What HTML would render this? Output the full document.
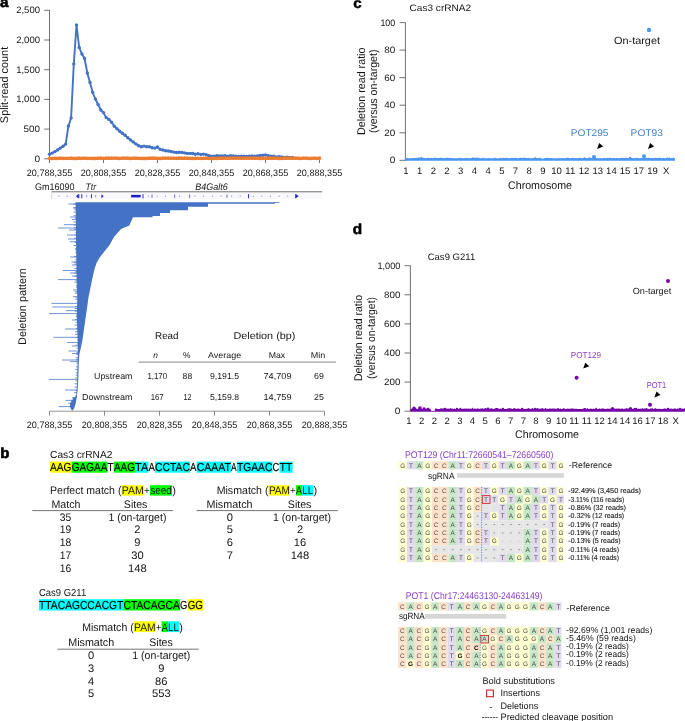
<!DOCTYPE html>
<html lang="en"><head><meta charset="utf-8"><title>Figure</title>
<style>html,body{margin:0;padding:0;background:#fff}svg{display:block}text{white-space:pre}</style></head>
<body>
<svg width="685" height="721" viewBox="0 0 685 721" font-family='"Liberation Sans", sans-serif' fill="#141414" text-rendering="geometricPrecision">
<text x="0.1" y="7.3" font-size="14.6" textLength="8.5" lengthAdjust="spacingAndGlyphs" fill="#000" font-weight="bold" stroke="#000" stroke-width="0.55">a</text>
<line x1="49.5" y1="10.3" x2="49.5" y2="159.2" stroke="#4d4d4d" stroke-width="0.8"/>
<line x1="44.2" y1="158.8" x2="49.5" y2="158.8" stroke="#4d4d4d" stroke-width="0.8"/>
<text x="40.0" y="161.6" font-size="9.36" text-anchor="end" textLength="5.6" lengthAdjust="spacingAndGlyphs">0</text>
<line x1="44.2" y1="129.1" x2="49.5" y2="129.1" stroke="#4d4d4d" stroke-width="0.8"/>
<text x="40.0" y="131.9" font-size="9.36" text-anchor="end" textLength="16.4" lengthAdjust="spacingAndGlyphs">500</text>
<line x1="44.2" y1="99.4" x2="49.5" y2="99.4" stroke="#4d4d4d" stroke-width="0.8"/>
<text x="40.0" y="102.2" font-size="9.36" text-anchor="end" textLength="23.8" lengthAdjust="spacingAndGlyphs">1,000</text>
<line x1="44.2" y1="69.7" x2="49.5" y2="69.7" stroke="#4d4d4d" stroke-width="0.8"/>
<text x="40.0" y="72.5" font-size="9.36" text-anchor="end" textLength="23.8" lengthAdjust="spacingAndGlyphs">1,500</text>
<line x1="44.2" y1="40.0" x2="49.5" y2="40.0" stroke="#4d4d4d" stroke-width="0.8"/>
<text x="40.0" y="42.8" font-size="9.36" text-anchor="end" textLength="23.8" lengthAdjust="spacingAndGlyphs">2,000</text>
<line x1="44.2" y1="10.3" x2="49.5" y2="10.3" stroke="#4d4d4d" stroke-width="0.8"/>
<text x="40.0" y="13.1" font-size="9.36" text-anchor="end" textLength="23.8" lengthAdjust="spacingAndGlyphs">2,500</text>
<text transform="translate(4.3 85.0) rotate(-90)" x="0" y="3.8" font-size="11.02" text-anchor="middle" textLength="76.3" lengthAdjust="spacingAndGlyphs">Split-read count</text>
<line x1="49.5" y1="158.8" x2="319.0" y2="158.8" stroke="#4d4d4d" stroke-width="0.8"/>
<line x1="49.5" y1="158.8" x2="49.5" y2="163.0" stroke="#4d4d4d" stroke-width="0.8"/>
<text x="49.5" y="176.2" font-size="9.36" text-anchor="middle" textLength="45.5" lengthAdjust="spacingAndGlyphs">20,788,355</text>
<line x1="103.5" y1="158.8" x2="103.5" y2="163.0" stroke="#4d4d4d" stroke-width="0.8"/>
<text x="103.5" y="176.2" font-size="9.36" text-anchor="middle" textLength="45.5" lengthAdjust="spacingAndGlyphs">20,808,355</text>
<line x1="157.5" y1="158.8" x2="157.5" y2="163.0" stroke="#4d4d4d" stroke-width="0.8"/>
<text x="157.5" y="176.2" font-size="9.36" text-anchor="middle" textLength="45.5" lengthAdjust="spacingAndGlyphs">20,828,355</text>
<line x1="211.5" y1="158.8" x2="211.5" y2="163.0" stroke="#4d4d4d" stroke-width="0.8"/>
<text x="211.5" y="176.2" font-size="9.36" text-anchor="middle" textLength="45.5" lengthAdjust="spacingAndGlyphs">20,848,355</text>
<line x1="265.5" y1="158.8" x2="265.5" y2="163.0" stroke="#4d4d4d" stroke-width="0.8"/>
<text x="265.5" y="176.2" font-size="9.36" text-anchor="middle" textLength="45.5" lengthAdjust="spacingAndGlyphs">20,868,355</text>
<line x1="319.5" y1="158.8" x2="319.5" y2="163.0" stroke="#4d4d4d" stroke-width="0.8"/>
<text x="319.5" y="176.2" font-size="9.36" text-anchor="middle" textLength="45.5" lengthAdjust="spacingAndGlyphs">20,888,355</text>
<polyline fill="none" stroke="#4472c4" stroke-width="1.9" stroke-linejoin="round" points="49.5,154.2 52.2,153.1 54.9,151.6 57.6,149.9 60.3,148.1 63.0,146.3 65.7,144.1 68.4,126.0 71.1,118.0 73.8,64.0 76.5,25.0 79.2,47.5 81.9,54.0 84.6,58.5 87.3,73.0 90.0,82.5 92.7,92.5 95.4,99.0 98.1,104.5 100.8,110.0 103.5,112.6 106.2,117.6 108.9,119.4 111.6,122.2 114.3,126.3 117.0,128.7 119.7,131.2 122.4,133.3 125.1,135.3 127.8,137.8 130.5,139.9 133.2,141.9 135.9,143.9 138.6,145.7 141.3,146.8 144.0,146.1 146.7,146.7 149.4,146.7 152.1,147.7 154.8,148.1 157.5,147.0 160.2,149.4 162.9,150.0 165.6,150.7 168.3,151.0 171.0,151.5 173.7,152.1 176.4,152.5 179.1,152.2 181.8,152.4 184.5,152.9 187.2,153.4 189.9,153.4 192.6,153.5 195.3,154.2 198.0,153.7 200.7,154.4 203.4,154.1 206.1,154.6 208.8,155.7 211.5,156.1 214.2,156.3 216.9,155.8 219.6,156.0 222.3,155.9 225.0,155.8 227.7,156.1 230.4,155.8 233.1,155.9 235.8,156.1 238.5,156.4 241.2,156.2 243.9,156.2 246.6,156.4 249.3,156.2 252.0,155.9 254.7,156.2 257.4,156.0 260.1,155.4 262.8,155.3 265.5,154.9 268.2,155.6 270.9,156.2 273.6,156.3 276.3,157.0 279.0,156.6 281.7,157.0 284.4,157.4 287.1,157.2 289.8,157.6 292.5,157.5"/>
<g fill="#4472c4">
<circle cx="49.5" cy="154.2" r="1.7"/>
<circle cx="52.2" cy="153.1" r="1.7"/>
<circle cx="54.9" cy="151.6" r="1.7"/>
<circle cx="57.6" cy="149.9" r="1.7"/>
<circle cx="60.3" cy="148.1" r="1.7"/>
<circle cx="63.0" cy="146.3" r="1.7"/>
<circle cx="65.7" cy="144.1" r="1.7"/>
<circle cx="68.4" cy="126.0" r="1.7"/>
<circle cx="71.1" cy="118.0" r="1.7"/>
<circle cx="73.8" cy="64.0" r="1.7"/>
<circle cx="76.5" cy="25.0" r="1.7"/>
<circle cx="79.2" cy="47.5" r="1.7"/>
<circle cx="81.9" cy="54.0" r="1.7"/>
<circle cx="84.6" cy="58.5" r="1.7"/>
<circle cx="87.3" cy="73.0" r="1.7"/>
<circle cx="90.0" cy="82.5" r="1.7"/>
<circle cx="92.7" cy="92.5" r="1.7"/>
<circle cx="95.4" cy="99.0" r="1.7"/>
<circle cx="98.1" cy="104.5" r="1.7"/>
<circle cx="100.8" cy="110.0" r="1.7"/>
<circle cx="103.5" cy="112.6" r="1.7"/>
<circle cx="106.2" cy="117.6" r="1.7"/>
<circle cx="108.9" cy="119.4" r="1.7"/>
<circle cx="111.6" cy="122.2" r="1.7"/>
<circle cx="114.3" cy="126.3" r="1.7"/>
<circle cx="117.0" cy="128.7" r="1.7"/>
<circle cx="119.7" cy="131.2" r="1.7"/>
<circle cx="122.4" cy="133.3" r="1.7"/>
<circle cx="125.1" cy="135.3" r="1.7"/>
<circle cx="127.8" cy="137.8" r="1.7"/>
<circle cx="130.5" cy="139.9" r="1.7"/>
<circle cx="133.2" cy="141.9" r="1.7"/>
<circle cx="135.9" cy="143.9" r="1.7"/>
<circle cx="138.6" cy="145.7" r="1.7"/>
<circle cx="141.3" cy="146.8" r="1.7"/>
<circle cx="144.0" cy="146.1" r="1.7"/>
<circle cx="146.7" cy="146.7" r="1.7"/>
<circle cx="149.4" cy="146.7" r="1.7"/>
<circle cx="152.1" cy="147.7" r="1.7"/>
<circle cx="154.8" cy="148.1" r="1.7"/>
<circle cx="157.5" cy="147.0" r="1.7"/>
<circle cx="160.2" cy="149.4" r="1.7"/>
<circle cx="162.9" cy="150.0" r="1.7"/>
<circle cx="165.6" cy="150.7" r="1.7"/>
<circle cx="168.3" cy="151.0" r="1.7"/>
<circle cx="171.0" cy="151.5" r="1.7"/>
<circle cx="173.7" cy="152.1" r="1.7"/>
<circle cx="176.4" cy="152.5" r="1.7"/>
<circle cx="179.1" cy="152.2" r="1.7"/>
<circle cx="181.8" cy="152.4" r="1.7"/>
<circle cx="184.5" cy="152.9" r="1.7"/>
<circle cx="187.2" cy="153.4" r="1.7"/>
<circle cx="189.9" cy="153.4" r="1.7"/>
<circle cx="192.6" cy="153.5" r="1.7"/>
<circle cx="195.3" cy="154.2" r="1.7"/>
<circle cx="198.0" cy="153.7" r="1.7"/>
<circle cx="200.7" cy="154.4" r="1.7"/>
<circle cx="203.4" cy="154.1" r="1.7"/>
<circle cx="206.1" cy="154.6" r="1.7"/>
<circle cx="208.8" cy="155.7" r="1.7"/>
<circle cx="211.5" cy="156.1" r="1.7"/>
<circle cx="214.2" cy="156.3" r="1.7"/>
<circle cx="216.9" cy="155.8" r="1.7"/>
<circle cx="219.6" cy="156.0" r="1.7"/>
<circle cx="222.3" cy="155.9" r="1.7"/>
<circle cx="225.0" cy="155.8" r="1.7"/>
<circle cx="227.7" cy="156.1" r="1.7"/>
<circle cx="230.4" cy="155.8" r="1.7"/>
<circle cx="233.1" cy="155.9" r="1.7"/>
<circle cx="235.8" cy="156.1" r="1.7"/>
<circle cx="238.5" cy="156.4" r="1.7"/>
<circle cx="241.2" cy="156.2" r="1.7"/>
<circle cx="243.9" cy="156.2" r="1.7"/>
<circle cx="246.6" cy="156.4" r="1.7"/>
<circle cx="249.3" cy="156.2" r="1.7"/>
<circle cx="252.0" cy="155.9" r="1.7"/>
<circle cx="254.7" cy="156.2" r="1.7"/>
<circle cx="257.4" cy="156.0" r="1.7"/>
<circle cx="260.1" cy="155.4" r="1.7"/>
<circle cx="262.8" cy="155.3" r="1.7"/>
<circle cx="265.5" cy="154.9" r="1.7"/>
<circle cx="268.2" cy="155.6" r="1.7"/>
<circle cx="270.9" cy="156.2" r="1.7"/>
<circle cx="273.6" cy="156.3" r="1.7"/>
<circle cx="276.3" cy="157.0" r="1.7"/>
<circle cx="279.0" cy="156.6" r="1.7"/>
<circle cx="281.7" cy="157.0" r="1.7"/>
<circle cx="284.4" cy="157.4" r="1.7"/>
<circle cx="287.1" cy="157.2" r="1.7"/>
<circle cx="289.8" cy="157.6" r="1.7"/>
<circle cx="292.5" cy="157.5" r="1.7"/>
</g>
<polyline fill="none" stroke="#ed7d31" stroke-width="2.4" points="49.5,158.3 52.2,158.4 54.9,158.3 57.6,158.4 60.3,158.2 63.0,158.3 65.7,158.3 68.4,158.3 71.1,158.2 73.8,158.4 76.5,158.4 79.2,158.2 81.9,158.3 84.6,158.1 87.3,158.3 90.0,158.3 92.7,158.4 95.4,158.4 98.1,158.2 100.8,158.2 103.5,158.3 106.2,158.1 108.9,158.2 111.6,158.1 114.3,158.1 117.0,158.1 119.7,158.4 122.4,158.1 125.1,158.1 127.8,158.2 130.5,158.4 133.2,158.1 135.9,158.2 138.6,158.3 141.3,158.4 144.0,158.4 146.7,158.4 149.4,158.2 152.1,158.2 154.8,158.2 157.5,158.4 160.2,158.4 162.9,158.1 165.6,158.1 168.3,158.1 171.0,158.1 173.7,158.2 176.4,158.3 179.1,158.2 181.8,158.1 184.5,158.2 187.2,158.2 189.9,158.3 192.6,158.4 195.3,158.3 198.0,158.3 200.7,158.3 203.4,158.3 206.1,158.1 208.8,158.4 211.5,158.4 214.2,158.4 216.9,158.4 219.6,158.2 222.3,158.2 225.0,158.1 227.7,158.3 230.4,158.1 233.1,158.1 235.8,158.1 238.5,158.1 241.2,158.2 243.9,158.1 246.6,158.1 249.3,158.1 252.0,158.1 254.7,158.2 257.4,158.1 260.1,158.4 262.8,158.3 265.5,158.1 268.2,158.2 270.9,158.2 273.6,158.2 276.3,158.1 279.0,158.4 281.7,158.4 284.4,158.2 287.1,158.2 289.8,158.1 292.5,158.1 295.2,158.2 297.9,158.2 300.6,158.4 303.3,158.1 306.0,158.1 308.7,158.4 311.4,158.3 314.1,158.1 316.8,158.3 319.5,158.1"/>
<g fill="#ed7d31">
<circle cx="49.5" cy="158.3" r="1.9"/>
<circle cx="52.2" cy="158.4" r="1.9"/>
<circle cx="54.9" cy="158.3" r="1.9"/>
<circle cx="57.6" cy="158.4" r="1.9"/>
<circle cx="60.3" cy="158.2" r="1.9"/>
<circle cx="63.0" cy="158.3" r="1.9"/>
<circle cx="65.7" cy="158.3" r="1.9"/>
<circle cx="68.4" cy="158.3" r="1.9"/>
<circle cx="71.1" cy="158.2" r="1.9"/>
<circle cx="73.8" cy="158.4" r="1.9"/>
<circle cx="76.5" cy="158.4" r="1.9"/>
<circle cx="79.2" cy="158.2" r="1.9"/>
<circle cx="81.9" cy="158.3" r="1.9"/>
<circle cx="84.6" cy="158.1" r="1.9"/>
<circle cx="87.3" cy="158.3" r="1.9"/>
<circle cx="90.0" cy="158.3" r="1.9"/>
<circle cx="92.7" cy="158.4" r="1.9"/>
<circle cx="95.4" cy="158.4" r="1.9"/>
<circle cx="98.1" cy="158.2" r="1.9"/>
<circle cx="100.8" cy="158.2" r="1.9"/>
<circle cx="103.5" cy="158.3" r="1.9"/>
<circle cx="106.2" cy="158.1" r="1.9"/>
<circle cx="108.9" cy="158.2" r="1.9"/>
<circle cx="111.6" cy="158.1" r="1.9"/>
<circle cx="114.3" cy="158.1" r="1.9"/>
<circle cx="117.0" cy="158.1" r="1.9"/>
<circle cx="119.7" cy="158.4" r="1.9"/>
<circle cx="122.4" cy="158.1" r="1.9"/>
<circle cx="125.1" cy="158.1" r="1.9"/>
<circle cx="127.8" cy="158.2" r="1.9"/>
<circle cx="130.5" cy="158.4" r="1.9"/>
<circle cx="133.2" cy="158.1" r="1.9"/>
<circle cx="135.9" cy="158.2" r="1.9"/>
<circle cx="138.6" cy="158.3" r="1.9"/>
<circle cx="141.3" cy="158.4" r="1.9"/>
<circle cx="144.0" cy="158.4" r="1.9"/>
<circle cx="146.7" cy="158.4" r="1.9"/>
<circle cx="149.4" cy="158.2" r="1.9"/>
<circle cx="152.1" cy="158.2" r="1.9"/>
<circle cx="154.8" cy="158.2" r="1.9"/>
<circle cx="157.5" cy="158.4" r="1.9"/>
<circle cx="160.2" cy="158.4" r="1.9"/>
<circle cx="162.9" cy="158.1" r="1.9"/>
<circle cx="165.6" cy="158.1" r="1.9"/>
<circle cx="168.3" cy="158.1" r="1.9"/>
<circle cx="171.0" cy="158.1" r="1.9"/>
<circle cx="173.7" cy="158.2" r="1.9"/>
<circle cx="176.4" cy="158.3" r="1.9"/>
<circle cx="179.1" cy="158.2" r="1.9"/>
<circle cx="181.8" cy="158.1" r="1.9"/>
<circle cx="184.5" cy="158.2" r="1.9"/>
<circle cx="187.2" cy="158.2" r="1.9"/>
<circle cx="189.9" cy="158.3" r="1.9"/>
<circle cx="192.6" cy="158.4" r="1.9"/>
<circle cx="195.3" cy="158.3" r="1.9"/>
<circle cx="198.0" cy="158.3" r="1.9"/>
<circle cx="200.7" cy="158.3" r="1.9"/>
<circle cx="203.4" cy="158.3" r="1.9"/>
<circle cx="206.1" cy="158.1" r="1.9"/>
<circle cx="208.8" cy="158.4" r="1.9"/>
<circle cx="211.5" cy="158.4" r="1.9"/>
<circle cx="214.2" cy="158.4" r="1.9"/>
<circle cx="216.9" cy="158.4" r="1.9"/>
<circle cx="219.6" cy="158.2" r="1.9"/>
<circle cx="222.3" cy="158.2" r="1.9"/>
<circle cx="225.0" cy="158.1" r="1.9"/>
<circle cx="227.7" cy="158.3" r="1.9"/>
<circle cx="230.4" cy="158.1" r="1.9"/>
<circle cx="233.1" cy="158.1" r="1.9"/>
<circle cx="235.8" cy="158.1" r="1.9"/>
<circle cx="238.5" cy="158.1" r="1.9"/>
<circle cx="241.2" cy="158.2" r="1.9"/>
<circle cx="243.9" cy="158.1" r="1.9"/>
<circle cx="246.6" cy="158.1" r="1.9"/>
<circle cx="249.3" cy="158.1" r="1.9"/>
<circle cx="252.0" cy="158.1" r="1.9"/>
<circle cx="254.7" cy="158.2" r="1.9"/>
<circle cx="257.4" cy="158.1" r="1.9"/>
<circle cx="260.1" cy="158.4" r="1.9"/>
<circle cx="262.8" cy="158.3" r="1.9"/>
<circle cx="265.5" cy="158.1" r="1.9"/>
<circle cx="268.2" cy="158.2" r="1.9"/>
<circle cx="270.9" cy="158.2" r="1.9"/>
<circle cx="273.6" cy="158.2" r="1.9"/>
<circle cx="276.3" cy="158.1" r="1.9"/>
<circle cx="279.0" cy="158.4" r="1.9"/>
<circle cx="281.7" cy="158.4" r="1.9"/>
<circle cx="284.4" cy="158.2" r="1.9"/>
<circle cx="287.1" cy="158.2" r="1.9"/>
<circle cx="289.8" cy="158.1" r="1.9"/>
<circle cx="292.5" cy="158.1" r="1.9"/>
<circle cx="295.2" cy="158.2" r="1.9"/>
<circle cx="297.9" cy="158.2" r="1.9"/>
<circle cx="300.6" cy="158.4" r="1.9"/>
<circle cx="303.3" cy="158.1" r="1.9"/>
<circle cx="306.0" cy="158.1" r="1.9"/>
<circle cx="308.7" cy="158.4" r="1.9"/>
<circle cx="311.4" cy="158.3" r="1.9"/>
<circle cx="314.1" cy="158.1" r="1.9"/>
<circle cx="316.8" cy="158.3" r="1.9"/>
<circle cx="319.5" cy="158.1" r="1.9"/>
</g>
<text x="35.0" y="189.5" font-size="9.57" textLength="39.5" lengthAdjust="spacingAndGlyphs">Gm16090</text>
<text x="85.6" y="189.5" font-size="9.57" textLength="10.5" lengthAdjust="spacingAndGlyphs" font-style="italic">Ttr</text>
<text x="195.2" y="189.5" font-size="9.57" textLength="32.5" lengthAdjust="spacingAndGlyphs" font-style="italic">B4Galt6</text>
<rect x="51.50" y="191.10" width="270.50" height="1.50" fill="#8c8c8c"/>
<rect x="51.50" y="192.60" width="270.50" height="6.50" fill="#f8f8fd"/>
<rect x="51.20" y="192.60" width="0.60" height="6.50" fill="#c8c8c8"/>
<rect x="58.40" y="195.70" width="1.00" height="1.00" fill="#7d7de6"/>
<rect x="66.70" y="195.70" width="1.00" height="1.00" fill="#7d7de6"/>
<rect x="147.90" y="195.70" width="1.00" height="1.00" fill="#7d7de6"/>
<rect x="156.70" y="195.70" width="1.00" height="1.00" fill="#7d7de6"/>
<rect x="164.90" y="195.70" width="1.00" height="1.00" fill="#7d7de6"/>
<rect x="179.00" y="195.70" width="1.00" height="1.00" fill="#7d7de6"/>
<rect x="194.40" y="195.70" width="1.00" height="1.00" fill="#7d7de6"/>
<rect x="203.10" y="195.70" width="1.00" height="1.00" fill="#7d7de6"/>
<rect x="211.90" y="195.70" width="1.00" height="1.00" fill="#7d7de6"/>
<rect x="220.50" y="195.70" width="1.00" height="1.00" fill="#7d7de6"/>
<rect x="231.10" y="195.70" width="1.00" height="1.00" fill="#7d7de6"/>
<rect x="239.70" y="195.70" width="1.00" height="1.00" fill="#7d7de6"/>
<rect x="252.90" y="195.70" width="1.00" height="1.00" fill="#7d7de6"/>
<rect x="261.30" y="195.70" width="1.00" height="1.00" fill="#7d7de6"/>
<rect x="269.90" y="195.70" width="1.00" height="1.00" fill="#7d7de6"/>
<rect x="278.70" y="195.70" width="1.00" height="1.00" fill="#7d7de6"/>
<rect x="287.20" y="195.70" width="1.00" height="1.00" fill="#7d7de6"/>
<rect x="81.35" y="194.10" width="0.90" height="4.20" fill="#1c1cc8"/>
<rect x="90.95" y="194.10" width="0.90" height="4.20" fill="#1c1cc8"/>
<rect x="142.55" y="194.10" width="0.90" height="4.20" fill="#1c1cc8"/>
<rect x="248.05" y="194.10" width="0.90" height="4.20" fill="#1c1cc8"/>
<rect x="151.60" y="194.50" width="0.80" height="3.40" fill="#4a4ad6"/>
<rect x="174.30" y="194.50" width="0.80" height="3.40" fill="#4a4ad6"/>
<rect x="189.30" y="194.50" width="0.80" height="3.40" fill="#4a4ad6"/>
<rect x="226.60" y="194.50" width="0.80" height="3.40" fill="#4a4ad6"/>
<rect x="86.20" y="195.00" width="0.80" height="2.40" fill="#7d7de6"/>
<rect x="95.30" y="195.00" width="0.80" height="2.40" fill="#7d7de6"/>
<path d="M76 196.2 l2.2 -2 v4 z" fill="#1c1cc8"/>
<rect x="78.20" y="194.20" width="1.10" height="4.00" fill="#1c1cc8"/>
<path d="M101.4 194.2 l2.2 2 l-2.2 2 z" fill="#1c1cc8"/>
<rect x="131.10" y="194.90" width="9.60" height="2.50" fill="#1c1cc8"/>
<rect x="295.20" y="194.10" width="0.90" height="4.20" fill="#1c1cc8"/>
<path d="M296 194.29999999999998 l2.6 1.9 l-2.6 1.9 z" fill="#1c1cc8"/>
<path fill="#4472c4" d="M279.5 202.3 L279.5 203.0 L275.0 203.0 L275.0 203.7 L208.0 203.7 L208.0 206.7 L188.0 206.7 L188.0 210.2 L170.0 210.2 L170.0 213.0 L160.0 213.0 L160.0 216.0 L152.5 216.0 L152.5 217.2 L133.0 217.2 L129.3 225.5 L121.0 229.0 L114.0 237.0 L109.4 245.2 L104.8 251.0 L100.0 257.0 L96.6 262.8 L94.3 269.8 L92.0 280.3 L90.3 288.5 L88.4 297.8 L87.2 307.0 L86.0 315.0 L85.0 322.0 L82.6 339.0 L80.6 349.0 L79.4 354.0 L78.8 362.0 L78.5 372.0 L78.2 381.0 L77.6 390.0 L76.9 396.5 L75.8 403.2 L74.2 408.2 L72.9 410.2 L71.6 410.2 L69.8 406.5 L70.1 403.2 L73.3 398.4 L76.2 395.8 L76.6 390.0 L77.2 380.0 L77.3 370.0 L77.7 360.0 L78.0 350.0 L77.7 340.0 L77.3 330.0 L76.9 320.0 L76.9 310.0 L77.3 300.0 L76.8 285.0 L76.4 265.0 L76.1 245.0 L75.9 225.0 L75.7 210.0 L75.6 202.3 Z"/>
<g stroke="#4472c4" stroke-width="0.75">
<line x1="68.5" y1="204.0" x2="76.1" y2="204.0"/>
<line x1="73.0" y1="208.0" x2="76.2" y2="208.0"/>
<line x1="70.0" y1="217.0" x2="76.3" y2="217.0"/>
<line x1="72.0" y1="219.5" x2="76.3" y2="219.5"/>
<line x1="64.0" y1="224.7" x2="76.4" y2="224.7"/>
<line x1="58.0" y1="228.0" x2="76.4" y2="228.0"/>
<line x1="69.0" y1="230.0" x2="76.5" y2="230.0"/>
<line x1="67.0" y1="235.0" x2="76.5" y2="235.0"/>
<line x1="68.0" y1="239.0" x2="76.5" y2="239.0"/>
<line x1="70.0" y1="241.7" x2="76.6" y2="241.7"/>
<line x1="70.0" y1="257.0" x2="76.8" y2="257.0"/>
<line x1="71.5" y1="262.0" x2="76.9" y2="262.0"/>
<line x1="72.0" y1="265.0" x2="76.9" y2="265.0"/>
<line x1="62.7" y1="270.5" x2="77.0" y2="270.5"/>
<line x1="70.0" y1="273.0" x2="77.1" y2="273.0"/>
<line x1="72.0" y1="276.0" x2="77.1" y2="276.0"/>
<line x1="58.0" y1="279.6" x2="77.2" y2="279.6"/>
<line x1="73.0" y1="290.0" x2="77.5" y2="290.0"/>
<line x1="73.0" y1="296.6" x2="77.7" y2="296.6"/>
<line x1="51.5" y1="303.4" x2="77.7" y2="303.4"/>
<line x1="52.4" y1="307.0" x2="77.5" y2="307.0"/>
<line x1="66.0" y1="310.6" x2="77.4" y2="310.6"/>
<line x1="49.0" y1="313.6" x2="77.4" y2="313.6"/>
<line x1="72.0" y1="320.0" x2="77.4" y2="320.0"/>
<line x1="65.0" y1="329.0" x2="77.8" y2="329.0"/>
<line x1="53.4" y1="337.3" x2="78.1" y2="337.3"/>
<line x1="67.0" y1="342.5" x2="78.3" y2="342.5"/>
<line x1="72.0" y1="346.0" x2="78.4" y2="346.0"/>
<line x1="68.5" y1="351.0" x2="78.5" y2="351.0"/>
<line x1="72.0" y1="353.5" x2="78.4" y2="353.5"/>
<line x1="62.0" y1="360.0" x2="78.2" y2="360.0"/>
<line x1="70.0" y1="361.6" x2="78.1" y2="361.6"/>
<line x1="49.0" y1="379.4" x2="77.7" y2="379.4"/>
<line x1="65.0" y1="390.0" x2="77.1" y2="390.0"/>
<line x1="72.0" y1="398.0" x2="74.2" y2="398.0"/>
<line x1="65.5" y1="400.4" x2="72.5" y2="400.4"/>
<line x1="58.5" y1="406.6" x2="70.3" y2="406.6"/>
<line x1="73.1" y1="204.1" x2="76.2" y2="204.1"/>
<line x1="73.7" y1="207.6" x2="76.3" y2="207.6"/>
<line x1="74.4" y1="209.3" x2="76.3" y2="209.3"/>
<line x1="73.6" y1="212.0" x2="76.3" y2="212.0"/>
<line x1="73.6" y1="215.7" x2="76.4" y2="215.7"/>
<line x1="74.8" y1="218.2" x2="76.4" y2="218.2"/>
<line x1="73.3" y1="222.0" x2="76.5" y2="222.0"/>
<line x1="73.7" y1="225.0" x2="76.5" y2="225.0"/>
<line x1="73.9" y1="227.8" x2="76.5" y2="227.8"/>
<line x1="74.4" y1="229.6" x2="76.5" y2="229.6"/>
<line x1="75.4" y1="232.7" x2="76.6" y2="232.7"/>
<line x1="74.9" y1="235.0" x2="76.6" y2="235.0"/>
<line x1="74.1" y1="238.3" x2="76.6" y2="238.3"/>
<line x1="74.6" y1="242.6" x2="76.7" y2="242.6"/>
<line x1="73.5" y1="245.5" x2="76.7" y2="245.5"/>
<line x1="74.9" y1="248.4" x2="76.8" y2="248.4"/>
<line x1="75.2" y1="249.8" x2="76.8" y2="249.8"/>
<line x1="75.3" y1="252.7" x2="76.8" y2="252.7"/>
<line x1="73.9" y1="256.4" x2="76.9" y2="256.4"/>
<line x1="74.8" y1="259.8" x2="76.9" y2="259.8"/>
<line x1="74.2" y1="262.3" x2="77.0" y2="262.3"/>
<line x1="74.5" y1="264.1" x2="77.0" y2="264.1"/>
<line x1="74.3" y1="268.6" x2="77.1" y2="268.6"/>
<line x1="75.0" y1="271.2" x2="77.1" y2="271.2"/>
<line x1="74.4" y1="273.0" x2="77.2" y2="273.0"/>
<line x1="74.4" y1="276.2" x2="77.2" y2="276.2"/>
<line x1="75.4" y1="280.3" x2="77.3" y2="280.3"/>
<line x1="74.3" y1="282.1" x2="77.3" y2="282.1"/>
<line x1="76.0" y1="285.6" x2="77.4" y2="285.6"/>
<line x1="76.1" y1="287.4" x2="77.5" y2="287.4"/>
<line x1="74.8" y1="291.8" x2="77.6" y2="291.8"/>
<line x1="74.8" y1="293.2" x2="77.7" y2="293.2"/>
<line x1="75.3" y1="297.8" x2="77.8" y2="297.8"/>
<line x1="75.6" y1="299.4" x2="77.9" y2="299.4"/>
<line x1="76.7" y1="301.9" x2="77.8" y2="301.9"/>
<line x1="75.2" y1="306.4" x2="77.6" y2="306.4"/>
<line x1="74.5" y1="308.5" x2="77.6" y2="308.5"/>
<line x1="74.6" y1="311.2" x2="77.5" y2="311.2"/>
<line x1="76.0" y1="314.9" x2="77.5" y2="314.9"/>
<line x1="75.8" y1="316.6" x2="77.5" y2="316.6"/>
<line x1="75.2" y1="319.5" x2="77.5" y2="319.5"/>
<line x1="75.6" y1="322.4" x2="77.6" y2="322.4"/>
<line x1="74.7" y1="325.1" x2="77.7" y2="325.1"/>
<line x1="75.8" y1="328.4" x2="77.8" y2="328.4"/>
<line x1="75.0" y1="331.8" x2="78.0" y2="331.8"/>
<line x1="75.0" y1="334.3" x2="78.1" y2="334.3"/>
<line x1="76.0" y1="337.4" x2="78.2" y2="337.4"/>
<line x1="77.2" y1="340.3" x2="78.3" y2="340.3"/>
<line x1="76.9" y1="343.1" x2="78.4" y2="343.1"/>
<line x1="75.7" y1="345.1" x2="78.5" y2="345.1"/>
<line x1="76.5" y1="348.3" x2="78.6" y2="348.3"/>
<line x1="76.3" y1="352.4" x2="78.5" y2="352.4"/>
<line x1="76.3" y1="354.5" x2="78.5" y2="354.5"/>
<line x1="75.6" y1="357.8" x2="78.4" y2="357.8"/>
<line x1="76.0" y1="359.8" x2="78.3" y2="359.8"/>
<line x1="76.5" y1="363.0" x2="78.2" y2="363.0"/>
<line x1="75.9" y1="366.9" x2="78.0" y2="366.9"/>
<line x1="75.2" y1="369.4" x2="77.9" y2="369.4"/>
<line x1="75.8" y1="373.0" x2="77.9" y2="373.0"/>
<line x1="75.7" y1="375.3" x2="77.8" y2="375.3"/>
<line x1="75.3" y1="378.0" x2="77.8" y2="378.0"/>
<line x1="75.5" y1="380.8" x2="77.8" y2="380.8"/>
<line x1="74.5" y1="383.8" x2="77.6" y2="383.8"/>
<line x1="74.4" y1="387.1" x2="77.4" y2="387.1"/>
<line x1="75.5" y1="390.5" x2="77.2" y2="390.5"/>
<line x1="73.9" y1="392.6" x2="77.0" y2="392.6"/>
<line x1="75.1" y1="396.1" x2="76.5" y2="396.1"/>
<line x1="72.8" y1="397.5" x2="74.9" y2="397.5"/>
<line x1="71.0" y1="400.3" x2="72.6" y2="400.3"/>
<line x1="68.2" y1="403.2" x2="70.7" y2="403.2"/>
</g>
<text transform="translate(22.3 306.6) rotate(-90)" x="0" y="3.8" font-size="11.02" text-anchor="middle" textLength="76.7" lengthAdjust="spacingAndGlyphs">Deletion pattern</text>
<line x1="49.5" y1="411.2" x2="324.5" y2="411.2" stroke="#8a8a8a" stroke-width="0.9"/>
<line x1="49.5" y1="411.2" x2="49.5" y2="415.6" stroke="#6a6a6a" stroke-width="0.8"/>
<text x="49.5" y="427.8" font-size="9.36" text-anchor="middle" textLength="45.5" lengthAdjust="spacingAndGlyphs">20,788,355</text>
<line x1="104.5" y1="411.2" x2="104.5" y2="415.6" stroke="#6a6a6a" stroke-width="0.8"/>
<text x="104.5" y="427.8" font-size="9.36" text-anchor="middle" textLength="45.5" lengthAdjust="spacingAndGlyphs">20,808,355</text>
<line x1="159.5" y1="411.2" x2="159.5" y2="415.6" stroke="#6a6a6a" stroke-width="0.8"/>
<text x="159.5" y="427.8" font-size="9.36" text-anchor="middle" textLength="45.5" lengthAdjust="spacingAndGlyphs">20,828,355</text>
<line x1="214.5" y1="411.2" x2="214.5" y2="415.6" stroke="#6a6a6a" stroke-width="0.8"/>
<text x="214.5" y="427.8" font-size="9.36" text-anchor="middle" textLength="45.5" lengthAdjust="spacingAndGlyphs">20,848,355</text>
<line x1="269.5" y1="411.2" x2="269.5" y2="415.6" stroke="#6a6a6a" stroke-width="0.8"/>
<text x="269.5" y="427.8" font-size="9.36" text-anchor="middle" textLength="45.5" lengthAdjust="spacingAndGlyphs">20,868,355</text>
<line x1="324.5" y1="411.2" x2="324.5" y2="415.6" stroke="#6a6a6a" stroke-width="0.8"/>
<text x="324.5" y="427.8" font-size="9.36" text-anchor="middle" textLength="45.5" lengthAdjust="spacingAndGlyphs">20,888,355</text>
<text x="166.8" y="338.8" font-size="9.98" text-anchor="middle" textLength="23.5" lengthAdjust="spacingAndGlyphs">Read</text>
<text x="264.4" y="338.8" font-size="9.98" text-anchor="middle" textLength="62.0" lengthAdjust="spacingAndGlyphs">Deletion (bp)</text>
<text x="155.7" y="357.7" font-size="8.32" text-anchor="middle" textLength="4.7" lengthAdjust="spacingAndGlyphs" font-style="italic">n</text>
<text x="186.7" y="357.7" font-size="8.32" text-anchor="middle" textLength="7.5" lengthAdjust="spacingAndGlyphs">%</text>
<text x="224.6" y="357.7" font-size="8.32" text-anchor="middle" textLength="33.0" lengthAdjust="spacingAndGlyphs">Average</text>
<text x="277.0" y="357.7" font-size="8.32" text-anchor="middle" textLength="16.5" lengthAdjust="spacingAndGlyphs">Max</text>
<text x="318.0" y="357.7" font-size="8.32" text-anchor="middle" textLength="14.5" lengthAdjust="spacingAndGlyphs">Min</text>
<line x1="138.5" y1="362.1" x2="336.0" y2="362.1" stroke="#6a6a6a" stroke-width="0.8"/>
<text x="132.5" y="379.2" font-size="8.63" text-anchor="end" textLength="38.5" lengthAdjust="spacingAndGlyphs">Upstream</text>
<text x="157.2" y="379.2" font-size="8.63" text-anchor="middle" textLength="19.6" lengthAdjust="spacingAndGlyphs">1,170</text>
<text x="187.4" y="379.2" font-size="8.63" text-anchor="middle" textLength="9.6" lengthAdjust="spacingAndGlyphs">88</text>
<text x="224.5" y="379.2" font-size="8.63" text-anchor="middle" textLength="29.0" lengthAdjust="spacingAndGlyphs">9,191.5</text>
<text x="277.5" y="379.2" font-size="8.63" text-anchor="middle" textLength="28.0" lengthAdjust="spacingAndGlyphs">74,709</text>
<text x="319.0" y="379.2" font-size="8.63" text-anchor="middle" textLength="9.8" lengthAdjust="spacingAndGlyphs">69</text>
<text x="132.5" y="400.4" font-size="8.63" text-anchor="end" textLength="50.5" lengthAdjust="spacingAndGlyphs">Downstream</text>
<text x="157.2" y="400.4" font-size="8.63" text-anchor="middle" textLength="13.0" lengthAdjust="spacingAndGlyphs">167</text>
<text x="187.4" y="400.4" font-size="8.63" text-anchor="middle" textLength="8.0" lengthAdjust="spacingAndGlyphs">12</text>
<text x="224.5" y="400.4" font-size="8.63" text-anchor="middle" textLength="29.0" lengthAdjust="spacingAndGlyphs">5,159.8</text>
<text x="277.5" y="400.4" font-size="8.63" text-anchor="middle" textLength="28.0" lengthAdjust="spacingAndGlyphs">14,759</text>
<text x="319.0" y="400.4" font-size="8.63" text-anchor="middle" textLength="9.8" lengthAdjust="spacingAndGlyphs">25</text>
<text x="0.2" y="458.2" font-size="14.6" textLength="9.2" lengthAdjust="spacingAndGlyphs" fill="#000" font-weight="bold" stroke="#000" stroke-width="0.55">b</text>
<text x="50.1" y="458.1" font-size="10.19" textLength="62.3" lengthAdjust="spacingAndGlyphs">Cas3 crRNA2</text>
<rect x="50.00" y="461.60" width="21.60" height="11.10" fill="#ffff00"/>
<rect x="71.60" y="461.60" width="35.90" height="11.10" fill="#00ff00"/>
<rect x="113.80" y="461.60" width="21.20" height="11.10" fill="#00ff00"/>
<rect x="135.00" y="461.60" width="13.40" height="11.10" fill="#00ffff"/>
<rect x="155.00" y="461.60" width="35.00" height="11.10" fill="#00ffff"/>
<rect x="196.60" y="461.60" width="34.40" height="11.10" fill="#00ffff"/>
<rect x="236.80" y="461.60" width="35.70" height="11.10" fill="#00ffff"/>
<rect x="279.50" y="461.60" width="13.10" height="11.10" fill="#00ffff"/>
<text x="50.1" y="471.3" font-size="11.65" textLength="21.4" lengthAdjust="spacingAndGlyphs" fill="#000" stroke="#000" stroke-width="0.15">AAG</text>
<text x="71.7" y="471.3" font-size="11.65" textLength="35.7" lengthAdjust="spacingAndGlyphs" fill="#000" stroke="#000" stroke-width="0.15">GAGAA</text>
<text x="107.6" y="471.3" font-size="11.65" textLength="6.1" lengthAdjust="spacingAndGlyphs" fill="#000" stroke="#000" stroke-width="0.15">T</text>
<text x="113.9" y="471.3" font-size="11.65" textLength="21.0" lengthAdjust="spacingAndGlyphs" fill="#000" stroke="#000" stroke-width="0.15">AAG</text>
<text x="135.1" y="471.3" font-size="11.65" textLength="13.2" lengthAdjust="spacingAndGlyphs" fill="#000" stroke="#000" stroke-width="0.15">TA</text>
<text x="148.5" y="471.3" font-size="11.65" textLength="6.4" lengthAdjust="spacingAndGlyphs" fill="#000" stroke="#000" stroke-width="0.15">A</text>
<text x="155.1" y="471.3" font-size="11.65" textLength="34.8" lengthAdjust="spacingAndGlyphs" fill="#000" stroke="#000" stroke-width="0.15">CCTAC</text>
<text x="190.1" y="471.3" font-size="11.65" textLength="6.4" lengthAdjust="spacingAndGlyphs" fill="#000" stroke="#000" stroke-width="0.15">A</text>
<text x="196.7" y="471.3" font-size="11.65" textLength="34.2" lengthAdjust="spacingAndGlyphs" fill="#000" stroke="#000" stroke-width="0.15">CAAAT</text>
<text x="231.1" y="471.3" font-size="11.65" textLength="5.6" lengthAdjust="spacingAndGlyphs" fill="#000" stroke="#000" stroke-width="0.15">A</text>
<text x="236.9" y="471.3" font-size="11.65" textLength="35.5" lengthAdjust="spacingAndGlyphs" fill="#000" stroke="#000" stroke-width="0.15">TGAAC</text>
<text x="272.6" y="471.3" font-size="11.65" textLength="6.8" lengthAdjust="spacingAndGlyphs" fill="#000" stroke="#000" stroke-width="0.15">C</text>
<text x="279.6" y="471.3" font-size="11.65" textLength="12.9" lengthAdjust="spacingAndGlyphs" fill="#000" stroke="#000" stroke-width="0.15">TT</text>
<rect x="121.60" y="485.20" width="22.60" height="10.40" fill="#ffff00"/>
<rect x="150.00" y="485.20" width="22.00" height="10.40" fill="#00ff00"/>
<text x="50.0" y="494.1" font-size="10.97" textLength="71.4" lengthAdjust="spacingAndGlyphs">Perfect match (</text>
<text x="121.8" y="494.1" font-size="10.97" textLength="22.0" lengthAdjust="spacingAndGlyphs">PAM</text>
<text x="144.3" y="494.1" font-size="10.97" textLength="5.4" lengthAdjust="spacingAndGlyphs">+</text>
<text x="150.2" y="494.1" font-size="10.97" textLength="21.6" lengthAdjust="spacingAndGlyphs">seed</text>
<text x="172.2" y="494.1" font-size="10.97" textLength="3.7" lengthAdjust="spacingAndGlyphs">)</text>
<text x="51.5" y="507.8" font-size="10.97" textLength="29.0" lengthAdjust="spacingAndGlyphs">Match</text>
<text x="135.6" y="507.8" font-size="10.97" text-anchor="middle" textLength="23.5" lengthAdjust="spacingAndGlyphs">Sites</text>
<line x1="32.3" y1="510.6" x2="173.0" y2="510.6" stroke="#3a3a3a" stroke-width="0.7"/>
<text x="65.5" y="520.5" font-size="10.97" text-anchor="middle" textLength="11.5" lengthAdjust="spacingAndGlyphs">35</text>
<text x="137.4" y="520.5" font-size="10.97" text-anchor="middle" textLength="58.0" lengthAdjust="spacingAndGlyphs">1 (on-target)</text>
<text x="65.5" y="533.3" font-size="10.97" text-anchor="middle" textLength="11.5" lengthAdjust="spacingAndGlyphs">19</text>
<text x="137.4" y="533.3" font-size="10.97" text-anchor="middle" textLength="6.2" lengthAdjust="spacingAndGlyphs">2</text>
<text x="65.5" y="546.1" font-size="10.97" text-anchor="middle" textLength="11.5" lengthAdjust="spacingAndGlyphs">18</text>
<text x="137.4" y="546.1" font-size="10.97" text-anchor="middle" textLength="6.2" lengthAdjust="spacingAndGlyphs">9</text>
<text x="65.5" y="558.9" font-size="10.97" text-anchor="middle" textLength="11.5" lengthAdjust="spacingAndGlyphs">17</text>
<text x="137.4" y="558.9" font-size="10.97" text-anchor="middle" textLength="12.4" lengthAdjust="spacingAndGlyphs">30</text>
<text x="65.5" y="571.7" font-size="10.97" text-anchor="middle" textLength="11.5" lengthAdjust="spacingAndGlyphs">16</text>
<text x="137.4" y="571.7" font-size="10.97" text-anchor="middle" textLength="18.7" lengthAdjust="spacingAndGlyphs">148</text>
<rect x="268.70" y="485.20" width="21.30" height="10.40" fill="#ffff00"/>
<rect x="295.90" y="485.20" width="6.20" height="10.40" fill="#00ff00"/>
<rect x="302.10" y="485.20" width="11.40" height="10.40" fill="#00ffff"/>
<text x="216.7" y="494.1" font-size="10.97" textLength="51.8" lengthAdjust="spacingAndGlyphs">Mismatch (</text>
<text x="268.9" y="494.1" font-size="10.97" textLength="21.0" lengthAdjust="spacingAndGlyphs">PAM</text>
<text x="290.3" y="494.1" font-size="10.97" textLength="5.3" lengthAdjust="spacingAndGlyphs">+</text>
<text x="296.0" y="494.1" font-size="10.97" textLength="6.0" lengthAdjust="spacingAndGlyphs">A</text>
<text x="302.2" y="494.1" font-size="10.97" textLength="11.0" lengthAdjust="spacingAndGlyphs">LL</text>
<text x="313.6" y="494.1" font-size="10.97" textLength="3.7" lengthAdjust="spacingAndGlyphs">)</text>
<text x="229.5" y="507.8" font-size="10.97" text-anchor="middle" textLength="46.0" lengthAdjust="spacingAndGlyphs">Mismatch</text>
<text x="299.6" y="507.8" font-size="10.97" text-anchor="middle" textLength="23.5" lengthAdjust="spacingAndGlyphs">Sites</text>
<line x1="196.6" y1="510.6" x2="337.8" y2="510.6" stroke="#3a3a3a" stroke-width="0.7"/>
<text x="229.8" y="520.5" font-size="10.97" text-anchor="middle" textLength="6.2" lengthAdjust="spacingAndGlyphs">0</text>
<text x="302.0" y="520.5" font-size="10.97" text-anchor="middle" textLength="58.0" lengthAdjust="spacingAndGlyphs">1 (on-target)</text>
<text x="229.8" y="533.3" font-size="10.97" text-anchor="middle" textLength="6.2" lengthAdjust="spacingAndGlyphs">5</text>
<text x="300.0" y="533.3" font-size="10.97" text-anchor="middle" textLength="6.2" lengthAdjust="spacingAndGlyphs">2</text>
<text x="229.8" y="546.1" font-size="10.97" text-anchor="middle" textLength="6.2" lengthAdjust="spacingAndGlyphs">6</text>
<text x="300.0" y="546.1" font-size="10.97" text-anchor="middle" textLength="12.4" lengthAdjust="spacingAndGlyphs">16</text>
<text x="229.8" y="558.9" font-size="10.97" text-anchor="middle" textLength="6.2" lengthAdjust="spacingAndGlyphs">7</text>
<text x="300.0" y="558.9" font-size="10.97" text-anchor="middle" textLength="18.7" lengthAdjust="spacingAndGlyphs">148</text>
<text x="39.0" y="596.2" font-size="10.19" textLength="47.2" lengthAdjust="spacingAndGlyphs">Cas9 G211</text>
<rect x="39.00" y="599.20" width="84.40" height="11.30" fill="#00ffff"/>
<rect x="123.40" y="599.20" width="56.60" height="11.30" fill="#00ff00"/>
<rect x="187.60" y="599.20" width="15.40" height="11.30" fill="#ffff00"/>
<text x="39.1" y="609.0" font-size="11.65" textLength="84.2" lengthAdjust="spacingAndGlyphs" fill="#000" stroke="#000" stroke-width="0.15">TTACAGCCACGT</text>
<text x="123.5" y="609.0" font-size="11.65" textLength="56.4" lengthAdjust="spacingAndGlyphs" fill="#000" stroke="#000" stroke-width="0.15">CTACAGCA</text>
<text x="180.1" y="609.0" font-size="11.65" textLength="7.4" lengthAdjust="spacingAndGlyphs" fill="#000" stroke="#000" stroke-width="0.15">G</text>
<text x="187.7" y="609.0" font-size="11.65" textLength="15.2" lengthAdjust="spacingAndGlyphs" fill="#000" stroke="#000" stroke-width="0.15">GG</text>
<rect x="133.90" y="621.30" width="21.90" height="10.80" fill="#ffff00"/>
<rect x="161.60" y="621.30" width="6.40" height="10.80" fill="#00ff00"/>
<rect x="168.00" y="621.30" width="11.00" height="10.80" fill="#00ffff"/>
<text x="82.2" y="630.6" font-size="10.97" textLength="51.5" lengthAdjust="spacingAndGlyphs">Mismatch (</text>
<text x="134.1" y="630.6" font-size="10.97" textLength="21.5" lengthAdjust="spacingAndGlyphs">PAM</text>
<text x="156.0" y="630.6" font-size="10.97" textLength="5.3" lengthAdjust="spacingAndGlyphs">+</text>
<text x="161.8" y="630.6" font-size="10.97" textLength="6.0" lengthAdjust="spacingAndGlyphs">A</text>
<text x="168.1" y="630.6" font-size="10.97" textLength="10.7" lengthAdjust="spacingAndGlyphs">LL</text>
<text x="179.2" y="630.6" font-size="10.97" textLength="3.7" lengthAdjust="spacingAndGlyphs">)</text>
<text x="91.2" y="646.0" font-size="10.97" text-anchor="middle" textLength="46.0" lengthAdjust="spacingAndGlyphs">Mismatch</text>
<text x="161.0" y="646.0" font-size="10.97" text-anchor="middle" textLength="23.5" lengthAdjust="spacingAndGlyphs">Sites</text>
<line x1="57.4" y1="649.2" x2="198.7" y2="649.2" stroke="#3a3a3a" stroke-width="0.7"/>
<text x="91.2" y="659.4" font-size="10.97" text-anchor="middle" textLength="6.2" lengthAdjust="spacingAndGlyphs">0</text>
<text x="161.3" y="659.4" font-size="10.97" text-anchor="middle" textLength="58.0" lengthAdjust="spacingAndGlyphs">1 (on-target)</text>
<text x="91.2" y="672.0" font-size="10.97" text-anchor="middle" textLength="6.2" lengthAdjust="spacingAndGlyphs">3</text>
<text x="161.3" y="672.0" font-size="10.97" text-anchor="middle" textLength="6.2" lengthAdjust="spacingAndGlyphs">9</text>
<text x="91.2" y="684.6" font-size="10.97" text-anchor="middle" textLength="6.2" lengthAdjust="spacingAndGlyphs">4</text>
<text x="161.3" y="684.6" font-size="10.97" text-anchor="middle" textLength="12.4" lengthAdjust="spacingAndGlyphs">86</text>
<text x="91.2" y="697.2" font-size="10.97" text-anchor="middle" textLength="6.2" lengthAdjust="spacingAndGlyphs">5</text>
<text x="161.3" y="697.2" font-size="10.97" text-anchor="middle" textLength="18.7" lengthAdjust="spacingAndGlyphs">553</text>
<text x="353.2" y="8.2" font-size="14.6" textLength="8.4" lengthAdjust="spacingAndGlyphs" fill="#000" font-weight="bold" stroke="#000" stroke-width="0.45">c</text>
<text x="409.6" y="10.8" font-size="9.36" textLength="61.5" lengthAdjust="spacingAndGlyphs">Cas3 crRNA2</text>
<line x1="405.4" y1="22.6" x2="405.4" y2="160.7" stroke="#4d4d4d" stroke-width="0.8"/>
<line x1="399.5" y1="160.3" x2="405.4" y2="160.3" stroke="#4d4d4d" stroke-width="0.8"/>
<text x="395.3" y="163.2" font-size="9.36" text-anchor="end" textLength="5.6" lengthAdjust="spacingAndGlyphs">0</text>
<line x1="399.5" y1="132.8" x2="405.4" y2="132.8" stroke="#4d4d4d" stroke-width="0.8"/>
<text x="395.3" y="135.7" font-size="9.36" text-anchor="end" textLength="11.0" lengthAdjust="spacingAndGlyphs">20</text>
<line x1="399.5" y1="105.2" x2="405.4" y2="105.2" stroke="#4d4d4d" stroke-width="0.8"/>
<text x="395.3" y="108.1" font-size="9.36" text-anchor="end" textLength="11.0" lengthAdjust="spacingAndGlyphs">40</text>
<line x1="399.5" y1="77.7" x2="405.4" y2="77.7" stroke="#4d4d4d" stroke-width="0.8"/>
<text x="395.3" y="80.6" font-size="9.36" text-anchor="end" textLength="11.0" lengthAdjust="spacingAndGlyphs">60</text>
<line x1="399.5" y1="50.1" x2="405.4" y2="50.1" stroke="#4d4d4d" stroke-width="0.8"/>
<text x="395.3" y="53.0" font-size="9.36" text-anchor="end" textLength="11.0" lengthAdjust="spacingAndGlyphs">80</text>
<line x1="399.5" y1="22.6" x2="405.4" y2="22.6" stroke="#4d4d4d" stroke-width="0.8"/>
<text x="395.3" y="25.5" font-size="9.36" text-anchor="end" textLength="14.9" lengthAdjust="spacingAndGlyphs">100</text>
<text transform="translate(360.7 91.3) rotate(-90)" x="0" y="3.8" font-size="11.13" text-anchor="middle" textLength="87.5" lengthAdjust="spacingAndGlyphs">Deletion read ratio</text>
<text transform="translate(373.6 91.3) rotate(-90)" x="0" y="3.8" font-size="11.13" text-anchor="middle" textLength="83.5" lengthAdjust="spacingAndGlyphs">(versus on-target)</text>
<text x="405.9" y="173.7" font-size="9.36" text-anchor="middle" textLength="5.3" lengthAdjust="spacingAndGlyphs">1</text>
<text x="419.6" y="173.7" font-size="9.36" text-anchor="middle" textLength="5.3" lengthAdjust="spacingAndGlyphs">1</text>
<text x="433.3" y="173.7" font-size="9.36" text-anchor="middle" textLength="5.3" lengthAdjust="spacingAndGlyphs">2</text>
<text x="447.0" y="173.7" font-size="9.36" text-anchor="middle" textLength="5.3" lengthAdjust="spacingAndGlyphs">2</text>
<text x="460.7" y="173.7" font-size="9.36" text-anchor="middle" textLength="5.3" lengthAdjust="spacingAndGlyphs">3</text>
<text x="474.4" y="173.7" font-size="9.36" text-anchor="middle" textLength="5.3" lengthAdjust="spacingAndGlyphs">4</text>
<text x="488.1" y="173.7" font-size="9.36" text-anchor="middle" textLength="5.3" lengthAdjust="spacingAndGlyphs">4</text>
<text x="501.8" y="173.7" font-size="9.36" text-anchor="middle" textLength="5.3" lengthAdjust="spacingAndGlyphs">5</text>
<text x="515.5" y="173.7" font-size="9.36" text-anchor="middle" textLength="5.3" lengthAdjust="spacingAndGlyphs">7</text>
<text x="529.2" y="173.7" font-size="9.36" text-anchor="middle" textLength="5.3" lengthAdjust="spacingAndGlyphs">8</text>
<text x="542.9" y="173.7" font-size="9.36" text-anchor="middle" textLength="5.3" lengthAdjust="spacingAndGlyphs">9</text>
<text x="556.6" y="173.7" font-size="9.36" text-anchor="middle" textLength="10.6" lengthAdjust="spacingAndGlyphs">10</text>
<text x="570.3" y="173.7" font-size="9.36" text-anchor="middle" textLength="9.9" lengthAdjust="spacingAndGlyphs">11</text>
<text x="584.0" y="173.7" font-size="9.36" text-anchor="middle" textLength="10.6" lengthAdjust="spacingAndGlyphs">12</text>
<text x="597.7" y="173.7" font-size="9.36" text-anchor="middle" textLength="10.6" lengthAdjust="spacingAndGlyphs">13</text>
<text x="611.4" y="173.7" font-size="9.36" text-anchor="middle" textLength="10.6" lengthAdjust="spacingAndGlyphs">14</text>
<text x="625.1" y="173.7" font-size="9.36" text-anchor="middle" textLength="10.6" lengthAdjust="spacingAndGlyphs">15</text>
<text x="638.8" y="173.7" font-size="9.36" text-anchor="middle" textLength="10.6" lengthAdjust="spacingAndGlyphs">17</text>
<text x="652.5" y="173.7" font-size="9.36" text-anchor="middle" textLength="10.6" lengthAdjust="spacingAndGlyphs">19</text>
<text x="666.2" y="173.7" font-size="9.36" text-anchor="middle" textLength="6.4" lengthAdjust="spacingAndGlyphs">X</text>
<text x="540.0" y="188.8" font-size="11.08" text-anchor="middle" textLength="64.0" lengthAdjust="spacingAndGlyphs">Chromosome</text>
<path d="M405.4 160.7 L405.4 158.29 L406.5 158.18 L407.6 157.84 L408.7 158.33 L409.8 158.32 L410.9 158.04 L412.0 158.25 L413.1 158.01 L414.2 157.95 L415.3 157.94 L416.4 157.76 L417.5 158.01 L418.6 157.24 L419.7 157.79 L420.8 158.22 L421.9 157.81 L423.0 157.77 L424.1 157.91 L425.2 158.00 L426.3 158.24 L427.4 157.84 L428.5 158.09 L429.6 157.80 L430.7 158.16 L431.8 157.79 L432.9 158.13 L434.0 157.80 L435.1 157.79 L436.2 158.02 L437.3 158.08 L438.4 157.91 L439.5 158.07 L440.6 157.82 L441.7 157.78 L442.8 157.94 L443.9 158.21 L445.0 158.05 L446.1 157.96 L447.2 157.49 L448.3 158.08 L449.4 158.03 L450.5 157.81 L451.6 158.01 L452.7 158.25 L453.8 158.05 L454.9 158.34 L456.0 158.25 L457.1 158.13 L458.2 157.96 L459.3 157.83 L460.4 158.19 L461.5 157.85 L462.6 158.25 L463.7 158.15 L464.8 157.90 L465.9 158.03 L467.0 158.02 L468.1 158.33 L469.2 158.08 L470.3 158.33 L471.4 157.96 L472.5 157.34 L473.6 157.87 L474.7 157.75 L475.8 157.80 L476.9 157.78 L478.0 157.42 L479.1 158.07 L480.2 158.14 L481.3 158.28 L482.4 157.95 L483.5 157.84 L484.6 158.14 L485.7 158.25 L486.8 158.13 L487.9 158.24 L489.0 158.06 L490.1 158.25 L491.2 158.25 L492.3 158.29 L493.4 158.17 L494.5 157.77 L495.6 157.97 L496.7 158.25 L497.8 158.13 L498.9 158.16 L500.0 157.75 L501.1 158.20 L502.2 158.07 L503.3 157.79 L504.4 157.90 L505.5 157.91 L506.6 157.87 L507.7 158.34 L508.8 157.98 L509.9 158.16 L511.0 158.12 L512.1 157.80 L513.2 157.90 L514.3 157.93 L515.4 157.76 L516.5 157.91 L517.6 158.17 L518.7 157.92 L519.8 158.03 L520.9 157.82 L522.0 157.87 L523.1 158.31 L524.2 157.22 L525.3 158.02 L526.4 157.88 L527.5 157.88 L528.6 157.84 L529.7 158.32 L530.8 158.24 L531.9 158.28 L533.0 157.89 L534.1 158.04 L535.2 157.11 L536.3 157.93 L537.4 157.96 L538.5 158.25 L539.6 157.38 L540.7 158.31 L541.8 158.29 L542.9 157.97 L544.0 158.35 L545.1 157.97 L546.2 157.92 L547.3 157.81 L548.4 157.92 L549.5 157.90 L550.6 158.06 L551.7 157.97 L552.8 158.28 L553.9 158.13 L555.0 158.31 L556.1 158.18 L557.2 158.19 L558.3 158.20 L559.4 157.92 L560.5 158.31 L561.6 158.03 L562.7 157.93 L563.8 158.34 L564.9 158.14 L566.0 158.08 L567.1 157.85 L568.2 157.87 L569.3 158.05 L570.4 158.29 L571.5 158.02 L572.6 157.87 L573.7 157.96 L574.8 157.89 L575.9 158.09 L577.0 158.20 L578.1 158.00 L579.2 157.98 L580.3 157.79 L581.4 158.33 L582.5 158.05 L583.6 158.27 L584.7 157.91 L585.8 157.99 L586.9 158.32 L588.0 158.27 L589.1 157.01 L590.2 158.03 L591.3 157.75 L592.4 158.31 L593.5 158.26 L594.6 157.90 L595.7 157.84 L596.8 158.16 L597.9 158.18 L599.0 158.21 L600.1 158.08 L601.2 158.22 L602.3 158.30 L603.4 157.93 L604.5 157.90 L605.6 158.17 L606.7 157.79 L607.8 158.10 L608.9 157.88 L610.0 157.76 L611.1 158.03 L612.2 158.14 L613.3 158.04 L614.4 157.90 L615.5 158.17 L616.6 157.76 L617.7 158.15 L618.8 157.90 L619.9 158.31 L621.0 157.77 L622.1 158.00 L623.2 157.87 L624.3 158.19 L625.4 157.87 L626.5 157.94 L627.6 157.89 L628.7 158.21 L629.8 158.32 L630.9 157.86 L632.0 158.00 L633.1 158.32 L634.2 157.99 L635.3 158.33 L636.4 157.78 L637.5 157.99 L638.6 158.28 L639.7 158.35 L640.8 157.95 L641.9 158.31 L643.0 157.77 L644.1 157.98 L645.2 157.95 L646.3 157.75 L647.4 157.96 L648.5 157.82 L649.6 157.87 L650.7 158.24 L651.8 158.01 L652.9 158.03 L654.0 158.30 L655.1 157.97 L656.2 157.77 L657.3 158.24 L658.4 157.77 L659.5 157.79 L660.6 157.90 L661.7 158.29 L662.8 157.91 L663.9 158.12 L665.0 158.18 L666.1 157.92 L667.2 157.35 L668.3 158.32 L669.4 157.25 L670.5 158.32 L671.6 157.90 L672.7 158.05 L673.8 157.86 L674.9 158.19 L675 160.7 Z" fill="#4b97f0"/>
<circle cx="421.2" cy="158.1" r="1.2" fill="#4b97f0"/>
<circle cx="584.4" cy="158.3" r="1.0" fill="#4b97f0"/>
<circle cx="630.0" cy="158.0" r="1.2" fill="#4b97f0"/>
<circle cx="594.0" cy="157.0" r="2.0" fill="#4b97f0"/>
<circle cx="644.0" cy="156.2" r="2.0" fill="#4b97f0"/>
<rect x="542.30" y="158.00" width="1.20" height="1.00" fill="#ffffff"/>
<circle cx="649.0" cy="30.0" r="2.2" fill="#4b97f0"/>
<text x="637.0" y="44.1" font-size="10.3" text-anchor="middle" textLength="46.0" lengthAdjust="spacingAndGlyphs">On-target</text>
<text x="570.8" y="135.6" font-size="9.67" textLength="37.7" lengthAdjust="spacingAndGlyphs" fill="#3f7fc4" stroke="none">POT295</text>
<text x="630.6" y="136.3" font-size="9.67" textLength="32.4" lengthAdjust="spacingAndGlyphs" fill="#3f7fc4" stroke="none">POT93</text>
<path d="M597.1 148.9 l2.1 -5.9 l4 3.5 z" fill="#000"/>
<path d="M648.0 148.9 l2.1 -5.9 l4 3.5 z" fill="#000"/>
<text x="352.7" y="234.4" font-size="14.6" textLength="9.4" lengthAdjust="spacingAndGlyphs" fill="#000" font-weight="bold" stroke="#000" stroke-width="0.55">d</text>
<text x="427.7" y="260.4" font-size="9.36" textLength="47.5" lengthAdjust="spacingAndGlyphs">Cas9 G211</text>
<line x1="410.4" y1="265.7" x2="410.4" y2="411.6" stroke="#4d4d4d" stroke-width="0.8"/>
<line x1="404.5" y1="411.2" x2="410.4" y2="411.2" stroke="#4d4d4d" stroke-width="0.8"/>
<text x="400.4" y="414.1" font-size="9.36" text-anchor="end" textLength="5.6" lengthAdjust="spacingAndGlyphs">0</text>
<line x1="404.5" y1="382.1" x2="410.4" y2="382.1" stroke="#4d4d4d" stroke-width="0.8"/>
<text x="400.4" y="385.0" font-size="9.36" text-anchor="end" textLength="16.4" lengthAdjust="spacingAndGlyphs">200</text>
<line x1="404.5" y1="353.0" x2="410.4" y2="353.0" stroke="#4d4d4d" stroke-width="0.8"/>
<text x="400.4" y="355.9" font-size="9.36" text-anchor="end" textLength="16.4" lengthAdjust="spacingAndGlyphs">400</text>
<line x1="404.5" y1="323.9" x2="410.4" y2="323.9" stroke="#4d4d4d" stroke-width="0.8"/>
<text x="400.4" y="326.8" font-size="9.36" text-anchor="end" textLength="16.4" lengthAdjust="spacingAndGlyphs">600</text>
<line x1="404.5" y1="294.8" x2="410.4" y2="294.8" stroke="#4d4d4d" stroke-width="0.8"/>
<text x="400.4" y="297.7" font-size="9.36" text-anchor="end" textLength="16.4" lengthAdjust="spacingAndGlyphs">800</text>
<line x1="404.5" y1="265.7" x2="410.4" y2="265.7" stroke="#4d4d4d" stroke-width="0.8"/>
<text x="400.4" y="268.6" font-size="9.36" text-anchor="end" textLength="23.0" lengthAdjust="spacingAndGlyphs">1,000</text>
<text transform="translate(358.6 338.0) rotate(-90)" x="0" y="3.8" font-size="11.13" text-anchor="middle" textLength="86.0" lengthAdjust="spacingAndGlyphs">Deletion read ratio</text>
<text transform="translate(371.0 338.0) rotate(-90)" x="0" y="3.8" font-size="11.13" text-anchor="middle" textLength="82.0" lengthAdjust="spacingAndGlyphs">(versus on-target)</text>
<text x="409.0" y="423.8" font-size="9.36" text-anchor="middle" textLength="5.3" lengthAdjust="spacingAndGlyphs">1</text>
<text x="421.7" y="423.8" font-size="9.36" text-anchor="middle" textLength="5.3" lengthAdjust="spacingAndGlyphs">2</text>
<text x="434.4" y="423.8" font-size="9.36" text-anchor="middle" textLength="5.3" lengthAdjust="spacingAndGlyphs">2</text>
<text x="447.1" y="423.8" font-size="9.36" text-anchor="middle" textLength="5.3" lengthAdjust="spacingAndGlyphs">2</text>
<text x="459.8" y="423.8" font-size="9.36" text-anchor="middle" textLength="5.3" lengthAdjust="spacingAndGlyphs">3</text>
<text x="472.5" y="423.8" font-size="9.36" text-anchor="middle" textLength="5.3" lengthAdjust="spacingAndGlyphs">4</text>
<text x="485.2" y="423.8" font-size="9.36" text-anchor="middle" textLength="5.3" lengthAdjust="spacingAndGlyphs">5</text>
<text x="497.9" y="423.8" font-size="9.36" text-anchor="middle" textLength="5.3" lengthAdjust="spacingAndGlyphs">6</text>
<text x="510.6" y="423.8" font-size="9.36" text-anchor="middle" textLength="5.3" lengthAdjust="spacingAndGlyphs">7</text>
<text x="523.3" y="423.8" font-size="9.36" text-anchor="middle" textLength="5.3" lengthAdjust="spacingAndGlyphs">7</text>
<text x="536.0" y="423.8" font-size="9.36" text-anchor="middle" textLength="5.3" lengthAdjust="spacingAndGlyphs">8</text>
<text x="548.7" y="423.8" font-size="9.36" text-anchor="middle" textLength="5.3" lengthAdjust="spacingAndGlyphs">9</text>
<text x="561.4" y="423.8" font-size="9.36" text-anchor="middle" textLength="10.6" lengthAdjust="spacingAndGlyphs">10</text>
<text x="574.1" y="423.8" font-size="9.36" text-anchor="middle" textLength="9.9" lengthAdjust="spacingAndGlyphs">11</text>
<text x="586.8" y="423.8" font-size="9.36" text-anchor="middle" textLength="9.9" lengthAdjust="spacingAndGlyphs">11</text>
<text x="599.5" y="423.8" font-size="9.36" text-anchor="middle" textLength="10.6" lengthAdjust="spacingAndGlyphs">12</text>
<text x="612.2" y="423.8" font-size="9.36" text-anchor="middle" textLength="10.6" lengthAdjust="spacingAndGlyphs">14</text>
<text x="624.9" y="423.8" font-size="9.36" text-anchor="middle" textLength="10.6" lengthAdjust="spacingAndGlyphs">14</text>
<text x="637.6" y="423.8" font-size="9.36" text-anchor="middle" textLength="10.6" lengthAdjust="spacingAndGlyphs">16</text>
<text x="650.3" y="423.8" font-size="9.36" text-anchor="middle" textLength="10.6" lengthAdjust="spacingAndGlyphs">17</text>
<text x="663.0" y="423.8" font-size="9.36" text-anchor="middle" textLength="10.6" lengthAdjust="spacingAndGlyphs">18</text>
<text x="675.7" y="423.8" font-size="9.36" text-anchor="middle" textLength="6.4" lengthAdjust="spacingAndGlyphs">X</text>
<text x="547.0" y="438.4" font-size="11.08" text-anchor="middle" textLength="64.0" lengthAdjust="spacingAndGlyphs">Chromosome</text>
<path d="M410.4 411.7 L410.4 408.98 L411.4 408.83 L412.4 408.62 L413.4 408.43 L414.4 408.93 L415.4 407.71 L416.4 408.63 L417.4 409.02 L418.4 408.13 L419.4 408.75 L420.4 408.71 L421.4 408.69 L422.4 408.87 L423.4 408.99 L424.4 408.48 L425.4 408.61 L426.4 408.66 L427.4 408.54 L428.4 407.64 L429.4 408.80 L430.4 408.68 L431.4 411.00 L432.4 411.00 L433.4 411.00 L434.4 411.00 L435.4 408.46 L436.4 408.48 L437.4 409.08 L438.4 409.05 L439.4 409.01 L440.4 408.58 L441.4 408.30 L442.4 408.83 L443.4 408.14 L444.4 408.58 L445.4 408.86 L446.4 408.41 L447.4 408.87 L448.4 408.62 L449.4 408.96 L450.4 407.81 L451.4 408.79 L452.4 408.46 L453.4 408.89 L454.4 408.60 L455.4 409.07 L456.4 408.80 L457.4 408.69 L458.4 409.10 L459.4 408.54 L460.4 407.60 L461.4 408.70 L462.4 408.68 L463.4 408.72 L464.4 408.41 L465.4 408.85 L466.4 408.46 L467.4 408.66 L468.4 408.50 L469.4 408.76 L470.4 408.48 L471.4 408.96 L472.4 407.57 L473.4 409.08 L474.4 408.44 L475.4 408.67 L476.4 408.83 L477.4 408.51 L478.4 408.56 L479.4 408.99 L480.4 408.53 L481.4 408.68 L482.4 408.12 L483.4 408.91 L484.4 408.43 L485.4 408.03 L486.4 408.48 L487.4 408.79 L488.4 408.61 L489.4 408.81 L490.4 408.86 L491.4 407.94 L492.4 408.74 L493.4 408.93 L494.4 408.72 L495.4 408.25 L496.4 408.04 L497.4 407.98 L498.4 408.46 L499.4 408.94 L500.4 408.44 L501.4 408.66 L502.4 408.50 L503.4 409.10 L504.4 408.97 L505.4 409.09 L506.4 409.07 L507.4 408.52 L508.4 408.44 L509.4 407.99 L510.4 408.59 L511.4 408.50 L512.4 409.04 L513.4 408.58 L514.4 408.11 L515.4 408.51 L516.4 408.88 L517.4 408.52 L518.4 408.48 L519.4 408.85 L520.4 409.01 L521.4 408.81 L522.4 408.47 L523.4 408.84 L524.4 408.96 L525.4 409.09 L526.4 408.65 L527.4 408.71 L528.4 408.03 L529.4 408.58 L530.4 409.09 L531.4 408.86 L532.4 407.91 L533.4 408.83 L534.4 408.76 L535.4 408.49 L536.4 408.46 L537.4 408.03 L538.4 408.56 L539.4 408.81 L540.4 408.84 L541.4 408.49 L542.4 408.11 L543.4 408.85 L544.4 408.95 L545.4 407.80 L546.4 408.79 L547.4 408.85 L548.4 409.06 L549.4 408.57 L550.4 408.43 L551.4 408.68 L552.4 408.44 L553.4 408.41 L554.4 408.54 L555.4 408.83 L556.4 408.85 L557.4 408.52 L558.4 407.68 L559.4 408.95 L560.4 408.40 L561.4 408.92 L562.4 408.92 L563.4 408.02 L564.4 408.43 L565.4 408.92 L566.4 408.99 L567.4 408.59 L568.4 408.71 L569.4 408.77 L570.4 408.85 L571.4 408.55 L572.4 408.41 L573.4 408.57 L574.4 409.06 L575.4 408.63 L576.4 408.63 L577.4 409.04 L578.4 408.88 L579.4 409.09 L580.4 408.99 L581.4 409.00 L582.4 408.91 L583.4 408.62 L584.4 407.89 L585.4 408.04 L586.4 409.05 L587.4 408.07 L588.4 408.88 L589.4 408.89 L590.4 408.45 L591.4 408.65 L592.4 408.97 L593.4 408.45 L594.4 409.04 L595.4 408.47 L596.4 407.57 L597.4 408.97 L598.4 408.98 L599.4 408.14 L600.4 408.93 L601.4 408.62 L602.4 408.41 L603.4 408.60 L604.4 408.66 L605.4 409.07 L606.4 409.00 L607.4 408.42 L608.4 408.71 L609.4 408.64 L610.4 408.78 L611.4 408.11 L612.4 408.00 L613.4 408.93 L614.4 408.40 L615.4 408.74 L616.4 408.53 L617.4 408.64 L618.4 408.58 L619.4 408.60 L620.4 408.89 L621.4 408.48 L622.4 408.46 L623.4 408.89 L624.4 408.84 L625.4 408.68 L626.4 408.09 L627.4 408.42 L628.4 408.58 L629.4 408.75 L630.4 409.02 L631.4 408.72 L632.4 408.93 L633.4 408.85 L634.4 407.72 L635.4 408.86 L636.4 408.52 L637.4 408.94 L638.4 408.49 L639.4 409.02 L640.4 408.53 L641.4 408.89 L642.4 407.96 L643.4 408.63 L644.4 408.51 L645.4 408.53 L646.4 407.93 L647.4 408.47 L648.4 409.09 L649.4 408.91 L650.4 408.54 L651.4 408.47 L652.4 408.03 L653.4 408.95 L654.4 408.75 L655.4 407.96 L656.4 408.68 L657.4 409.04 L658.4 408.80 L659.4 408.69 L660.4 408.91 L661.4 408.94 L662.4 409.00 L663.4 408.85 L664.4 408.62 L665.4 408.47 L666.4 408.95 L667.4 408.84 L668.4 408.70 L669.4 408.84 L670.4 408.87 L671.4 408.53 L672.4 408.94 L673.4 408.74 L674.4 408.43 L675.4 408.51 L676.4 409.06 L677.4 408.47 L678.4 408.78 L679.4 408.76 L680.4 408.98 L681.4 408.69 L682.4 408.55 L683.4 408.67 L684.4 408.49 L685.4 408.08 L686 411.7 Z" fill="#7507a8"/>
<circle cx="414.0" cy="408.3" r="1.7" fill="#7507a8"/>
<circle cx="420.0" cy="408.1" r="1.8" fill="#7507a8"/>
<circle cx="424.0" cy="408.7" r="1.4" fill="#7507a8"/>
<circle cx="428.0" cy="409.0" r="1.3" fill="#7507a8"/>
<circle cx="445.0" cy="409.0" r="1.2" fill="#7507a8"/>
<circle cx="457.0" cy="409.0" r="1.2" fill="#7507a8"/>
<circle cx="488.0" cy="408.8" r="1.3" fill="#7507a8"/>
<circle cx="503.0" cy="409.0" r="1.2" fill="#7507a8"/>
<circle cx="522.0" cy="409.0" r="1.2" fill="#7507a8"/>
<circle cx="535.0" cy="409.0" r="1.2" fill="#7507a8"/>
<circle cx="612.5" cy="408.6" r="1.6" fill="#7507a8"/>
<circle cx="630.5" cy="408.5" r="1.6" fill="#7507a8"/>
<circle cx="636.0" cy="409.0" r="1.2" fill="#7507a8"/>
<circle cx="668.0" cy="409.0" r="1.3" fill="#7507a8"/>
<circle cx="680.0" cy="409.0" r="1.2" fill="#7507a8"/>
<circle cx="576.6" cy="377.7" r="2.0" fill="#7507a8"/>
<circle cx="650.0" cy="404.7" r="2.0" fill="#7507a8"/>
<circle cx="668.0" cy="281.0" r="2.0" fill="#7507a8"/>
<text x="652.0" y="294.1" font-size="8.94" text-anchor="middle" textLength="38.5" lengthAdjust="spacingAndGlyphs">On-target</text>
<text x="570.8" y="358.4" font-size="8.63" textLength="30.2" lengthAdjust="spacingAndGlyphs" fill="#8a3fc9" stroke="none">POT129</text>
<text x="646.7" y="387.5" font-size="8.63" textLength="19.6" lengthAdjust="spacingAndGlyphs" fill="#8a3fc9" stroke="none">POT1</text>
<path d="M583.2 368.6 l2.1 -5.9 l4 3.5 z" fill="#000"/>
<path d="M654.4 397.5 l2.1 -5.9 l4 3.5 z" fill="#000"/>
<text x="405.0" y="457.9" font-size="9.78" textLength="148.3" lengthAdjust="spacingAndGlyphs" fill="#8a3fc9" stroke="none">POT129 (Chr11:72660541–72660560)</text>
<rect x="398.10" y="461.20" width="8.82" height="8.25" fill="#ffffd0"/>
<rect x="406.87" y="461.20" width="8.38" height="8.25" fill="#e1daec"/>
<rect x="415.19" y="461.20" width="8.38" height="8.25" fill="#c6e6c6"/>
<rect x="423.52" y="461.20" width="8.38" height="8.25" fill="#ffffd0"/>
<rect x="431.84" y="461.20" width="8.38" height="8.25" fill="#fde2c9"/>
<rect x="440.17" y="461.20" width="8.38" height="8.25" fill="#fde2c9"/>
<rect x="448.50" y="461.20" width="8.38" height="8.25" fill="#c6e6c6"/>
<rect x="456.82" y="461.20" width="8.38" height="8.25" fill="#e1daec"/>
<rect x="465.15" y="461.20" width="8.38" height="8.25" fill="#ffffd0"/>
<rect x="473.47" y="461.20" width="8.38" height="8.25" fill="#fde2c9"/>
<rect x="481.80" y="461.20" width="8.38" height="8.25" fill="#e1daec"/>
<rect x="490.13" y="461.20" width="8.38" height="8.25" fill="#ffffd0"/>
<rect x="498.45" y="461.20" width="8.38" height="8.25" fill="#e1daec"/>
<rect x="506.78" y="461.20" width="8.38" height="8.25" fill="#c6e6c6"/>
<rect x="515.10" y="461.20" width="8.38" height="8.25" fill="#ffffd0"/>
<rect x="523.43" y="461.20" width="8.38" height="8.25" fill="#c6e6c6"/>
<rect x="531.76" y="461.20" width="8.38" height="8.25" fill="#e1daec"/>
<rect x="540.08" y="461.20" width="8.38" height="8.25" fill="#ffffd0"/>
<rect x="548.41" y="461.20" width="8.38" height="8.25" fill="#e1daec"/>
<rect x="556.73" y="461.20" width="7.17" height="8.25" fill="#ffffd0"/>
<text x="402.7" y="467.5" font-size="6.4" text-anchor="middle" textLength="5.0" lengthAdjust="spacingAndGlyphs" fill="#4f4f4f" stroke="none">G</text>
<text x="411.0" y="467.5" font-size="6.4" text-anchor="middle" textLength="3.9" lengthAdjust="spacingAndGlyphs" fill="#4f4f4f" stroke="none">T</text>
<text x="419.4" y="467.5" font-size="6.4" text-anchor="middle" textLength="4.3" lengthAdjust="spacingAndGlyphs" fill="#4f4f4f" stroke="none">A</text>
<text x="427.7" y="467.5" font-size="6.4" text-anchor="middle" textLength="5.0" lengthAdjust="spacingAndGlyphs" fill="#4f4f4f" stroke="none">G</text>
<text x="436.0" y="467.5" font-size="6.4" text-anchor="middle" textLength="4.6" lengthAdjust="spacingAndGlyphs" fill="#4f4f4f" stroke="none">C</text>
<text x="444.3" y="467.5" font-size="6.4" text-anchor="middle" textLength="4.6" lengthAdjust="spacingAndGlyphs" fill="#4f4f4f" stroke="none">C</text>
<text x="452.7" y="467.5" font-size="6.4" text-anchor="middle" textLength="4.3" lengthAdjust="spacingAndGlyphs" fill="#4f4f4f" stroke="none">A</text>
<text x="461.0" y="467.5" font-size="6.4" text-anchor="middle" textLength="3.9" lengthAdjust="spacingAndGlyphs" fill="#4f4f4f" stroke="none">T</text>
<text x="469.3" y="467.5" font-size="6.4" text-anchor="middle" textLength="5.0" lengthAdjust="spacingAndGlyphs" fill="#4f4f4f" stroke="none">G</text>
<text x="477.6" y="467.5" font-size="6.4" text-anchor="middle" textLength="4.6" lengthAdjust="spacingAndGlyphs" fill="#4f4f4f" stroke="none">C</text>
<text x="486.0" y="467.5" font-size="6.4" text-anchor="middle" textLength="3.9" lengthAdjust="spacingAndGlyphs" fill="#4f4f4f" stroke="none">T</text>
<text x="494.3" y="467.5" font-size="6.4" text-anchor="middle" textLength="5.0" lengthAdjust="spacingAndGlyphs" fill="#4f4f4f" stroke="none">G</text>
<text x="502.6" y="467.5" font-size="6.4" text-anchor="middle" textLength="3.9" lengthAdjust="spacingAndGlyphs" fill="#4f4f4f" stroke="none">T</text>
<text x="510.9" y="467.5" font-size="6.4" text-anchor="middle" textLength="4.3" lengthAdjust="spacingAndGlyphs" fill="#4f4f4f" stroke="none">A</text>
<text x="519.3" y="467.5" font-size="6.4" text-anchor="middle" textLength="5.0" lengthAdjust="spacingAndGlyphs" fill="#4f4f4f" stroke="none">G</text>
<text x="527.6" y="467.5" font-size="6.4" text-anchor="middle" textLength="4.3" lengthAdjust="spacingAndGlyphs" fill="#4f4f4f" stroke="none">A</text>
<text x="535.9" y="467.5" font-size="6.4" text-anchor="middle" textLength="3.9" lengthAdjust="spacingAndGlyphs" fill="#4f4f4f" stroke="none">T</text>
<text x="544.2" y="467.5" font-size="6.4" text-anchor="middle" textLength="5.0" lengthAdjust="spacingAndGlyphs" fill="#4f4f4f" stroke="none">G</text>
<text x="552.6" y="467.5" font-size="6.4" text-anchor="middle" textLength="3.9" lengthAdjust="spacingAndGlyphs" fill="#4f4f4f" stroke="none">T</text>
<text x="560.9" y="467.5" font-size="6.4" text-anchor="middle" textLength="5.0" lengthAdjust="spacingAndGlyphs" fill="#4f4f4f" stroke="none">G</text>
<text x="568.8" y="468.3" font-size="8.63" textLength="43.3" lengthAdjust="spacingAndGlyphs">-Reference</text>
<text x="428.0" y="479.2" font-size="8.94" textLength="26.5" lengthAdjust="spacingAndGlyphs">sgRNA</text>
<rect x="457.00" y="473.20" width="106.90" height="4.60" fill="#d6d6d6"/>
<rect x="398.10" y="486.90" width="8.82" height="8.41" fill="#ffffd0"/>
<rect x="406.87" y="486.90" width="8.38" height="8.41" fill="#e1daec"/>
<rect x="415.19" y="486.90" width="8.38" height="8.41" fill="#c6e6c6"/>
<rect x="423.52" y="486.90" width="8.38" height="8.41" fill="#ffffd0"/>
<rect x="431.84" y="486.90" width="8.38" height="8.41" fill="#fde2c9"/>
<rect x="440.17" y="486.90" width="8.38" height="8.41" fill="#fde2c9"/>
<rect x="448.50" y="486.90" width="8.38" height="8.41" fill="#c6e6c6"/>
<rect x="456.82" y="486.90" width="8.38" height="8.41" fill="#e1daec"/>
<rect x="465.15" y="486.90" width="8.38" height="8.41" fill="#ffffd0"/>
<rect x="473.47" y="486.90" width="8.38" height="8.41" fill="#fde2c9"/>
<rect x="481.80" y="486.90" width="8.38" height="8.41" fill="#e1daec"/>
<rect x="490.13" y="486.90" width="8.38" height="8.41" fill="#ffffd0"/>
<rect x="498.45" y="486.90" width="8.38" height="8.41" fill="#e1daec"/>
<rect x="506.78" y="486.90" width="8.38" height="8.41" fill="#c6e6c6"/>
<rect x="515.10" y="486.90" width="8.38" height="8.41" fill="#ffffd0"/>
<rect x="523.43" y="486.90" width="8.38" height="8.41" fill="#c6e6c6"/>
<rect x="531.76" y="486.90" width="8.38" height="8.41" fill="#e1daec"/>
<rect x="540.08" y="486.90" width="8.38" height="8.41" fill="#ffffd0"/>
<rect x="548.41" y="486.90" width="8.38" height="8.41" fill="#e1daec"/>
<rect x="556.73" y="486.90" width="7.17" height="8.41" fill="#ffffd0"/>
<text x="402.7" y="493.3" font-size="6.4" text-anchor="middle" textLength="5.0" lengthAdjust="spacingAndGlyphs" fill="#4f4f4f" stroke="none">G</text>
<text x="411.0" y="493.3" font-size="6.4" text-anchor="middle" textLength="3.9" lengthAdjust="spacingAndGlyphs" fill="#4f4f4f" stroke="none">T</text>
<text x="419.4" y="493.3" font-size="6.4" text-anchor="middle" textLength="4.3" lengthAdjust="spacingAndGlyphs" fill="#4f4f4f" stroke="none">A</text>
<text x="427.7" y="493.3" font-size="6.4" text-anchor="middle" textLength="5.0" lengthAdjust="spacingAndGlyphs" fill="#4f4f4f" stroke="none">G</text>
<text x="436.0" y="493.3" font-size="6.4" text-anchor="middle" textLength="4.6" lengthAdjust="spacingAndGlyphs" fill="#4f4f4f" stroke="none">C</text>
<text x="444.3" y="493.3" font-size="6.4" text-anchor="middle" textLength="4.6" lengthAdjust="spacingAndGlyphs" fill="#4f4f4f" stroke="none">C</text>
<text x="452.7" y="493.3" font-size="6.4" text-anchor="middle" textLength="4.3" lengthAdjust="spacingAndGlyphs" fill="#4f4f4f" stroke="none">A</text>
<text x="461.0" y="493.3" font-size="6.4" text-anchor="middle" textLength="3.9" lengthAdjust="spacingAndGlyphs" fill="#4f4f4f" stroke="none">T</text>
<text x="469.3" y="493.3" font-size="6.4" text-anchor="middle" textLength="5.0" lengthAdjust="spacingAndGlyphs" fill="#4f4f4f" stroke="none">G</text>
<text x="477.6" y="493.3" font-size="6.4" text-anchor="middle" textLength="4.6" lengthAdjust="spacingAndGlyphs" fill="#4f4f4f" stroke="none">C</text>
<text x="486.0" y="493.3" font-size="6.4" text-anchor="middle" textLength="3.9" lengthAdjust="spacingAndGlyphs" fill="#4f4f4f" stroke="none">T</text>
<text x="494.3" y="493.3" font-size="6.4" text-anchor="middle" textLength="5.0" lengthAdjust="spacingAndGlyphs" fill="#4f4f4f" stroke="none">G</text>
<text x="502.6" y="493.3" font-size="6.4" text-anchor="middle" textLength="3.9" lengthAdjust="spacingAndGlyphs" fill="#4f4f4f" stroke="none">T</text>
<text x="510.9" y="493.3" font-size="6.4" text-anchor="middle" textLength="4.3" lengthAdjust="spacingAndGlyphs" fill="#4f4f4f" stroke="none">A</text>
<text x="519.3" y="493.3" font-size="6.4" text-anchor="middle" textLength="5.0" lengthAdjust="spacingAndGlyphs" fill="#4f4f4f" stroke="none">G</text>
<text x="527.6" y="493.3" font-size="6.4" text-anchor="middle" textLength="4.3" lengthAdjust="spacingAndGlyphs" fill="#4f4f4f" stroke="none">A</text>
<text x="535.9" y="493.3" font-size="6.4" text-anchor="middle" textLength="3.9" lengthAdjust="spacingAndGlyphs" fill="#4f4f4f" stroke="none">T</text>
<text x="544.2" y="493.3" font-size="6.4" text-anchor="middle" textLength="5.0" lengthAdjust="spacingAndGlyphs" fill="#4f4f4f" stroke="none">G</text>
<text x="552.6" y="493.3" font-size="6.4" text-anchor="middle" textLength="3.9" lengthAdjust="spacingAndGlyphs" fill="#4f4f4f" stroke="none">T</text>
<text x="560.9" y="493.3" font-size="6.4" text-anchor="middle" textLength="5.0" lengthAdjust="spacingAndGlyphs" fill="#4f4f4f" stroke="none">G</text>
<text x="568.3" y="493.4" font-size="7.18" textLength="72.7" lengthAdjust="spacingAndGlyphs" fill="#222" stroke="#222" stroke-width="0.12">-92.49% (3,450 reads)</text>
<rect x="398.10" y="495.26" width="8.82" height="8.41" fill="#ffffd0"/>
<rect x="406.87" y="495.26" width="8.38" height="8.41" fill="#e1daec"/>
<rect x="415.19" y="495.26" width="8.38" height="8.41" fill="#c6e6c6"/>
<rect x="423.52" y="495.26" width="8.38" height="8.41" fill="#ffffd0"/>
<rect x="431.84" y="495.26" width="8.38" height="8.41" fill="#fde2c9"/>
<rect x="440.17" y="495.26" width="8.38" height="8.41" fill="#fde2c9"/>
<rect x="448.50" y="495.26" width="8.38" height="8.41" fill="#c6e6c6"/>
<rect x="456.82" y="495.26" width="8.38" height="8.41" fill="#e1daec"/>
<rect x="465.15" y="495.26" width="8.38" height="8.41" fill="#ffffd0"/>
<rect x="473.47" y="495.26" width="8.38" height="8.41" fill="#fde2c9"/>
<rect x="481.80" y="495.26" width="8.38" height="8.41" fill="#e1daec"/>
<rect x="490.13" y="495.26" width="8.38" height="8.41" fill="#e1daec"/>
<rect x="498.45" y="495.26" width="8.38" height="8.41" fill="#ffffd0"/>
<rect x="506.78" y="495.26" width="8.38" height="8.41" fill="#e1daec"/>
<rect x="515.10" y="495.26" width="8.38" height="8.41" fill="#c6e6c6"/>
<rect x="523.43" y="495.26" width="8.38" height="8.41" fill="#ffffd0"/>
<rect x="531.76" y="495.26" width="8.38" height="8.41" fill="#c6e6c6"/>
<rect x="540.08" y="495.26" width="8.38" height="8.41" fill="#e1daec"/>
<rect x="548.41" y="495.26" width="8.38" height="8.41" fill="#ffffd0"/>
<rect x="556.73" y="495.26" width="7.17" height="8.41" fill="#e1daec"/>
<text x="402.7" y="501.6" font-size="6.4" text-anchor="middle" textLength="5.0" lengthAdjust="spacingAndGlyphs" fill="#4f4f4f" stroke="none">G</text>
<text x="411.0" y="501.6" font-size="6.4" text-anchor="middle" textLength="3.9" lengthAdjust="spacingAndGlyphs" fill="#4f4f4f" stroke="none">T</text>
<text x="419.4" y="501.6" font-size="6.4" text-anchor="middle" textLength="4.3" lengthAdjust="spacingAndGlyphs" fill="#4f4f4f" stroke="none">A</text>
<text x="427.7" y="501.6" font-size="6.4" text-anchor="middle" textLength="5.0" lengthAdjust="spacingAndGlyphs" fill="#4f4f4f" stroke="none">G</text>
<text x="436.0" y="501.6" font-size="6.4" text-anchor="middle" textLength="4.6" lengthAdjust="spacingAndGlyphs" fill="#4f4f4f" stroke="none">C</text>
<text x="444.3" y="501.6" font-size="6.4" text-anchor="middle" textLength="4.6" lengthAdjust="spacingAndGlyphs" fill="#4f4f4f" stroke="none">C</text>
<text x="452.7" y="501.6" font-size="6.4" text-anchor="middle" textLength="4.3" lengthAdjust="spacingAndGlyphs" fill="#4f4f4f" stroke="none">A</text>
<text x="461.0" y="501.6" font-size="6.4" text-anchor="middle" textLength="3.9" lengthAdjust="spacingAndGlyphs" fill="#4f4f4f" stroke="none">T</text>
<text x="469.3" y="501.6" font-size="6.4" text-anchor="middle" textLength="5.0" lengthAdjust="spacingAndGlyphs" fill="#4f4f4f" stroke="none">G</text>
<text x="477.6" y="501.6" font-size="6.4" text-anchor="middle" textLength="4.6" lengthAdjust="spacingAndGlyphs" fill="#4f4f4f" stroke="none">C</text>
<text x="486.0" y="501.6" font-size="6.4" text-anchor="middle" textLength="3.9" lengthAdjust="spacingAndGlyphs" fill="#4f4f4f" stroke="none">T</text>
<text x="494.3" y="501.6" font-size="6.4" text-anchor="middle" textLength="3.9" lengthAdjust="spacingAndGlyphs" fill="#4f4f4f" stroke="none">T</text>
<text x="502.6" y="501.6" font-size="6.4" text-anchor="middle" textLength="5.0" lengthAdjust="spacingAndGlyphs" fill="#4f4f4f" stroke="none">G</text>
<text x="510.9" y="501.6" font-size="6.4" text-anchor="middle" textLength="3.9" lengthAdjust="spacingAndGlyphs" fill="#4f4f4f" stroke="none">T</text>
<text x="519.3" y="501.6" font-size="6.4" text-anchor="middle" textLength="4.3" lengthAdjust="spacingAndGlyphs" fill="#4f4f4f" stroke="none">A</text>
<text x="527.6" y="501.6" font-size="6.4" text-anchor="middle" textLength="5.0" lengthAdjust="spacingAndGlyphs" fill="#4f4f4f" stroke="none">G</text>
<text x="535.9" y="501.6" font-size="6.4" text-anchor="middle" textLength="4.3" lengthAdjust="spacingAndGlyphs" fill="#4f4f4f" stroke="none">A</text>
<text x="544.2" y="501.6" font-size="6.4" text-anchor="middle" textLength="3.9" lengthAdjust="spacingAndGlyphs" fill="#4f4f4f" stroke="none">T</text>
<text x="552.6" y="501.6" font-size="6.4" text-anchor="middle" textLength="5.0" lengthAdjust="spacingAndGlyphs" fill="#4f4f4f" stroke="none">G</text>
<text x="560.9" y="501.6" font-size="6.4" text-anchor="middle" textLength="3.9" lengthAdjust="spacingAndGlyphs" fill="#4f4f4f" stroke="none">T</text>
<text x="568.3" y="501.7" font-size="7.18" textLength="55.9" lengthAdjust="spacingAndGlyphs" fill="#222" stroke="#222" stroke-width="0.12">-3.11% (116 reads)</text>
<rect x="398.10" y="503.62" width="8.82" height="8.41" fill="#ffffd0"/>
<rect x="406.87" y="503.62" width="8.38" height="8.41" fill="#e1daec"/>
<rect x="415.19" y="503.62" width="8.38" height="8.41" fill="#c6e6c6"/>
<rect x="423.52" y="503.62" width="8.38" height="8.41" fill="#ffffd0"/>
<rect x="431.84" y="503.62" width="8.38" height="8.41" fill="#fde2c9"/>
<rect x="440.17" y="503.62" width="8.38" height="8.41" fill="#fde2c9"/>
<rect x="448.50" y="503.62" width="8.38" height="8.41" fill="#c6e6c6"/>
<rect x="456.82" y="503.62" width="8.38" height="8.41" fill="#e1daec"/>
<rect x="465.15" y="503.62" width="8.38" height="8.41" fill="#ffffd0"/>
<rect x="473.47" y="503.62" width="8.38" height="8.41" fill="#fde2c9"/>
<rect x="481.80" y="503.62" width="8.38" height="8.41" fill="#e6e6e6"/>
<rect x="490.13" y="503.62" width="8.38" height="8.41" fill="#e6e6e6"/>
<rect x="498.45" y="503.62" width="8.38" height="8.41" fill="#e1daec"/>
<rect x="506.78" y="503.62" width="8.38" height="8.41" fill="#c6e6c6"/>
<rect x="515.10" y="503.62" width="8.38" height="8.41" fill="#ffffd0"/>
<rect x="523.43" y="503.62" width="8.38" height="8.41" fill="#c6e6c6"/>
<rect x="531.76" y="503.62" width="8.38" height="8.41" fill="#e1daec"/>
<rect x="540.08" y="503.62" width="8.38" height="8.41" fill="#ffffd0"/>
<rect x="548.41" y="503.62" width="8.38" height="8.41" fill="#e1daec"/>
<rect x="556.73" y="503.62" width="7.17" height="8.41" fill="#ffffd0"/>
<text x="402.7" y="510.0" font-size="6.4" text-anchor="middle" textLength="5.0" lengthAdjust="spacingAndGlyphs" fill="#4f4f4f" stroke="none">G</text>
<text x="411.0" y="510.0" font-size="6.4" text-anchor="middle" textLength="3.9" lengthAdjust="spacingAndGlyphs" fill="#4f4f4f" stroke="none">T</text>
<text x="419.4" y="510.0" font-size="6.4" text-anchor="middle" textLength="4.3" lengthAdjust="spacingAndGlyphs" fill="#4f4f4f" stroke="none">A</text>
<text x="427.7" y="510.0" font-size="6.4" text-anchor="middle" textLength="5.0" lengthAdjust="spacingAndGlyphs" fill="#4f4f4f" stroke="none">G</text>
<text x="436.0" y="510.0" font-size="6.4" text-anchor="middle" textLength="4.6" lengthAdjust="spacingAndGlyphs" fill="#4f4f4f" stroke="none">C</text>
<text x="444.3" y="510.0" font-size="6.4" text-anchor="middle" textLength="4.6" lengthAdjust="spacingAndGlyphs" fill="#4f4f4f" stroke="none">C</text>
<text x="452.7" y="510.0" font-size="6.4" text-anchor="middle" textLength="4.3" lengthAdjust="spacingAndGlyphs" fill="#4f4f4f" stroke="none">A</text>
<text x="461.0" y="510.0" font-size="6.4" text-anchor="middle" textLength="3.9" lengthAdjust="spacingAndGlyphs" fill="#4f4f4f" stroke="none">T</text>
<text x="469.3" y="510.0" font-size="6.4" text-anchor="middle" textLength="5.0" lengthAdjust="spacingAndGlyphs" fill="#4f4f4f" stroke="none">G</text>
<text x="477.6" y="510.0" font-size="6.4" text-anchor="middle" textLength="4.6" lengthAdjust="spacingAndGlyphs" fill="#4f4f4f" stroke="none">C</text>
<line x1="485.2" y1="507.8" x2="486.8" y2="507.8" stroke="#c4c4c4" stroke-width="0.6"/>
<line x1="493.5" y1="507.8" x2="495.1" y2="507.8" stroke="#c4c4c4" stroke-width="0.6"/>
<text x="502.6" y="510.0" font-size="6.4" text-anchor="middle" textLength="3.9" lengthAdjust="spacingAndGlyphs" fill="#4f4f4f" stroke="none">T</text>
<text x="510.9" y="510.0" font-size="6.4" text-anchor="middle" textLength="4.3" lengthAdjust="spacingAndGlyphs" fill="#4f4f4f" stroke="none">A</text>
<text x="519.3" y="510.0" font-size="6.4" text-anchor="middle" textLength="5.0" lengthAdjust="spacingAndGlyphs" fill="#4f4f4f" stroke="none">G</text>
<text x="527.6" y="510.0" font-size="6.4" text-anchor="middle" textLength="4.3" lengthAdjust="spacingAndGlyphs" fill="#4f4f4f" stroke="none">A</text>
<text x="535.9" y="510.0" font-size="6.4" text-anchor="middle" textLength="3.9" lengthAdjust="spacingAndGlyphs" fill="#4f4f4f" stroke="none">T</text>
<text x="544.2" y="510.0" font-size="6.4" text-anchor="middle" textLength="5.0" lengthAdjust="spacingAndGlyphs" fill="#4f4f4f" stroke="none">G</text>
<text x="552.6" y="510.0" font-size="6.4" text-anchor="middle" textLength="3.9" lengthAdjust="spacingAndGlyphs" fill="#4f4f4f" stroke="none">T</text>
<text x="560.9" y="510.0" font-size="6.4" text-anchor="middle" textLength="5.0" lengthAdjust="spacingAndGlyphs" fill="#4f4f4f" stroke="none">G</text>
<text x="568.3" y="510.0" font-size="7.18" textLength="57.7" lengthAdjust="spacingAndGlyphs" fill="#222" stroke="#222" stroke-width="0.12">-0.86% (32 reads)</text>
<rect x="398.10" y="511.98" width="8.82" height="8.41" fill="#ffffd0"/>
<rect x="406.87" y="511.98" width="8.38" height="8.41" fill="#e1daec"/>
<rect x="415.19" y="511.98" width="8.38" height="8.41" fill="#c6e6c6"/>
<rect x="423.52" y="511.98" width="8.38" height="8.41" fill="#ffffd0"/>
<rect x="431.84" y="511.98" width="8.38" height="8.41" fill="#fde2c9"/>
<rect x="440.17" y="511.98" width="8.38" height="8.41" fill="#fde2c9"/>
<rect x="448.50" y="511.98" width="8.38" height="8.41" fill="#c6e6c6"/>
<rect x="456.82" y="511.98" width="8.38" height="8.41" fill="#e1daec"/>
<rect x="465.15" y="511.98" width="8.38" height="8.41" fill="#ffffd0"/>
<rect x="473.47" y="511.98" width="8.38" height="8.41" fill="#e6e6e6"/>
<rect x="481.80" y="511.98" width="8.38" height="8.41" fill="#e1daec"/>
<rect x="490.13" y="511.98" width="8.38" height="8.41" fill="#ffffd0"/>
<rect x="498.45" y="511.98" width="8.38" height="8.41" fill="#e1daec"/>
<rect x="506.78" y="511.98" width="8.38" height="8.41" fill="#c6e6c6"/>
<rect x="515.10" y="511.98" width="8.38" height="8.41" fill="#ffffd0"/>
<rect x="523.43" y="511.98" width="8.38" height="8.41" fill="#c6e6c6"/>
<rect x="531.76" y="511.98" width="8.38" height="8.41" fill="#e1daec"/>
<rect x="540.08" y="511.98" width="8.38" height="8.41" fill="#ffffd0"/>
<rect x="548.41" y="511.98" width="8.38" height="8.41" fill="#e1daec"/>
<rect x="556.73" y="511.98" width="7.17" height="8.41" fill="#ffffd0"/>
<text x="402.7" y="518.4" font-size="6.4" text-anchor="middle" textLength="5.0" lengthAdjust="spacingAndGlyphs" fill="#4f4f4f" stroke="none">G</text>
<text x="411.0" y="518.4" font-size="6.4" text-anchor="middle" textLength="3.9" lengthAdjust="spacingAndGlyphs" fill="#4f4f4f" stroke="none">T</text>
<text x="419.4" y="518.4" font-size="6.4" text-anchor="middle" textLength="4.3" lengthAdjust="spacingAndGlyphs" fill="#4f4f4f" stroke="none">A</text>
<text x="427.7" y="518.4" font-size="6.4" text-anchor="middle" textLength="5.0" lengthAdjust="spacingAndGlyphs" fill="#4f4f4f" stroke="none">G</text>
<text x="436.0" y="518.4" font-size="6.4" text-anchor="middle" textLength="4.6" lengthAdjust="spacingAndGlyphs" fill="#4f4f4f" stroke="none">C</text>
<text x="444.3" y="518.4" font-size="6.4" text-anchor="middle" textLength="4.6" lengthAdjust="spacingAndGlyphs" fill="#4f4f4f" stroke="none">C</text>
<text x="452.7" y="518.4" font-size="6.4" text-anchor="middle" textLength="4.3" lengthAdjust="spacingAndGlyphs" fill="#4f4f4f" stroke="none">A</text>
<text x="461.0" y="518.4" font-size="6.4" text-anchor="middle" textLength="3.9" lengthAdjust="spacingAndGlyphs" fill="#4f4f4f" stroke="none">T</text>
<text x="469.3" y="518.4" font-size="6.4" text-anchor="middle" textLength="5.0" lengthAdjust="spacingAndGlyphs" fill="#4f4f4f" stroke="none">G</text>
<line x1="476.8" y1="516.2" x2="478.4" y2="516.2" stroke="#555" stroke-width="0.6"/>
<text x="486.0" y="518.4" font-size="6.4" text-anchor="middle" textLength="3.9" lengthAdjust="spacingAndGlyphs" fill="#4f4f4f" stroke="none">T</text>
<text x="494.3" y="518.4" font-size="6.4" text-anchor="middle" textLength="5.0" lengthAdjust="spacingAndGlyphs" fill="#4f4f4f" stroke="none">G</text>
<text x="502.6" y="518.4" font-size="6.4" text-anchor="middle" textLength="3.9" lengthAdjust="spacingAndGlyphs" fill="#4f4f4f" stroke="none">T</text>
<text x="510.9" y="518.4" font-size="6.4" text-anchor="middle" textLength="4.3" lengthAdjust="spacingAndGlyphs" fill="#4f4f4f" stroke="none">A</text>
<text x="519.3" y="518.4" font-size="6.4" text-anchor="middle" textLength="5.0" lengthAdjust="spacingAndGlyphs" fill="#4f4f4f" stroke="none">G</text>
<text x="527.6" y="518.4" font-size="6.4" text-anchor="middle" textLength="4.3" lengthAdjust="spacingAndGlyphs" fill="#4f4f4f" stroke="none">A</text>
<text x="535.9" y="518.4" font-size="6.4" text-anchor="middle" textLength="3.9" lengthAdjust="spacingAndGlyphs" fill="#4f4f4f" stroke="none">T</text>
<text x="544.2" y="518.4" font-size="6.4" text-anchor="middle" textLength="5.0" lengthAdjust="spacingAndGlyphs" fill="#4f4f4f" stroke="none">G</text>
<text x="552.6" y="518.4" font-size="6.4" text-anchor="middle" textLength="3.9" lengthAdjust="spacingAndGlyphs" fill="#4f4f4f" stroke="none">T</text>
<text x="560.9" y="518.4" font-size="6.4" text-anchor="middle" textLength="5.0" lengthAdjust="spacingAndGlyphs" fill="#4f4f4f" stroke="none">G</text>
<text x="568.3" y="518.4" font-size="7.18" textLength="55.9" lengthAdjust="spacingAndGlyphs" fill="#222" stroke="#222" stroke-width="0.12">-0.32% (12 reads)</text>
<rect x="398.10" y="520.34" width="8.82" height="8.41" fill="#ffffd0"/>
<rect x="406.87" y="520.34" width="8.38" height="8.41" fill="#e1daec"/>
<rect x="415.19" y="520.34" width="8.38" height="8.41" fill="#c6e6c6"/>
<rect x="423.52" y="520.34" width="8.38" height="8.41" fill="#ffffd0"/>
<rect x="431.84" y="520.34" width="8.38" height="8.41" fill="#fde2c9"/>
<rect x="440.17" y="520.34" width="8.38" height="8.41" fill="#fde2c9"/>
<rect x="448.50" y="520.34" width="8.38" height="8.41" fill="#c6e6c6"/>
<rect x="456.82" y="520.34" width="8.38" height="8.41" fill="#e1daec"/>
<rect x="465.15" y="520.34" width="8.38" height="8.41" fill="#ffffd0"/>
<rect x="473.47" y="520.34" width="8.38" height="8.41" fill="#e6e6e6"/>
<rect x="481.80" y="520.34" width="8.38" height="8.41" fill="#e6e6e6"/>
<rect x="490.13" y="520.34" width="8.38" height="8.41" fill="#e6e6e6"/>
<rect x="498.45" y="520.34" width="8.38" height="8.41" fill="#e6e6e6"/>
<rect x="506.78" y="520.34" width="8.38" height="8.41" fill="#e6e6e6"/>
<rect x="515.10" y="520.34" width="8.38" height="8.41" fill="#e6e6e6"/>
<rect x="523.43" y="520.34" width="8.38" height="8.41" fill="#e6e6e6"/>
<rect x="531.76" y="520.34" width="8.38" height="8.41" fill="#e6e6e6"/>
<rect x="540.08" y="520.34" width="8.38" height="8.41" fill="#e6e6e6"/>
<rect x="548.41" y="520.34" width="8.38" height="8.41" fill="#e1daec"/>
<rect x="556.73" y="520.34" width="7.17" height="8.41" fill="#ffffd0"/>
<text x="402.7" y="526.7" font-size="6.4" text-anchor="middle" textLength="5.0" lengthAdjust="spacingAndGlyphs" fill="#4f4f4f" stroke="none">G</text>
<text x="411.0" y="526.7" font-size="6.4" text-anchor="middle" textLength="3.9" lengthAdjust="spacingAndGlyphs" fill="#4f4f4f" stroke="none">T</text>
<text x="419.4" y="526.7" font-size="6.4" text-anchor="middle" textLength="4.3" lengthAdjust="spacingAndGlyphs" fill="#4f4f4f" stroke="none">A</text>
<text x="427.7" y="526.7" font-size="6.4" text-anchor="middle" textLength="5.0" lengthAdjust="spacingAndGlyphs" fill="#4f4f4f" stroke="none">G</text>
<text x="436.0" y="526.7" font-size="6.4" text-anchor="middle" textLength="4.6" lengthAdjust="spacingAndGlyphs" fill="#4f4f4f" stroke="none">C</text>
<text x="444.3" y="526.7" font-size="6.4" text-anchor="middle" textLength="4.6" lengthAdjust="spacingAndGlyphs" fill="#4f4f4f" stroke="none">C</text>
<text x="452.7" y="526.7" font-size="6.4" text-anchor="middle" textLength="4.3" lengthAdjust="spacingAndGlyphs" fill="#4f4f4f" stroke="none">A</text>
<text x="461.0" y="526.7" font-size="6.4" text-anchor="middle" textLength="3.9" lengthAdjust="spacingAndGlyphs" fill="#4f4f4f" stroke="none">T</text>
<text x="469.3" y="526.7" font-size="6.4" text-anchor="middle" textLength="5.0" lengthAdjust="spacingAndGlyphs" fill="#4f4f4f" stroke="none">G</text>
<line x1="476.8" y1="524.5" x2="478.4" y2="524.5" stroke="#555" stroke-width="0.6"/>
<line x1="485.2" y1="524.5" x2="486.8" y2="524.5" stroke="#555" stroke-width="0.6"/>
<line x1="493.5" y1="524.5" x2="495.1" y2="524.5" stroke="#555" stroke-width="0.6"/>
<line x1="501.8" y1="524.5" x2="503.4" y2="524.5" stroke="#555" stroke-width="0.6"/>
<line x1="510.1" y1="524.5" x2="511.7" y2="524.5" stroke="#555" stroke-width="0.6"/>
<line x1="518.5" y1="524.5" x2="520.1" y2="524.5" stroke="#555" stroke-width="0.6"/>
<line x1="526.8" y1="524.5" x2="528.4" y2="524.5" stroke="#555" stroke-width="0.6"/>
<line x1="535.1" y1="524.5" x2="536.7" y2="524.5" stroke="#555" stroke-width="0.6"/>
<line x1="543.4" y1="524.5" x2="545.0" y2="524.5" stroke="#555" stroke-width="0.6"/>
<text x="552.6" y="526.7" font-size="6.4" text-anchor="middle" textLength="3.9" lengthAdjust="spacingAndGlyphs" fill="#4f4f4f" stroke="none">T</text>
<text x="560.9" y="526.7" font-size="6.4" text-anchor="middle" textLength="5.0" lengthAdjust="spacingAndGlyphs" fill="#4f4f4f" stroke="none">G</text>
<text x="568.3" y="526.7" font-size="7.18" textLength="51.8" lengthAdjust="spacingAndGlyphs" fill="#222" stroke="#222" stroke-width="0.12">-0.19% (7 reads)</text>
<rect x="398.10" y="528.70" width="8.82" height="8.41" fill="#ffffd0"/>
<rect x="406.87" y="528.70" width="8.38" height="8.41" fill="#e1daec"/>
<rect x="415.19" y="528.70" width="8.38" height="8.41" fill="#c6e6c6"/>
<rect x="423.52" y="528.70" width="8.38" height="8.41" fill="#ffffd0"/>
<rect x="431.84" y="528.70" width="8.38" height="8.41" fill="#fde2c9"/>
<rect x="440.17" y="528.70" width="8.38" height="8.41" fill="#fde2c9"/>
<rect x="448.50" y="528.70" width="8.38" height="8.41" fill="#c6e6c6"/>
<rect x="456.82" y="528.70" width="8.38" height="8.41" fill="#e1daec"/>
<rect x="465.15" y="528.70" width="8.38" height="8.41" fill="#ffffd0"/>
<rect x="473.47" y="528.70" width="8.38" height="8.41" fill="#fde2c9"/>
<rect x="481.80" y="528.70" width="8.38" height="8.41" fill="#e1daec"/>
<rect x="490.13" y="528.70" width="8.38" height="8.41" fill="#e6e6e6"/>
<rect x="498.45" y="528.70" width="8.38" height="8.41" fill="#e6e6e6"/>
<rect x="506.78" y="528.70" width="8.38" height="8.41" fill="#e6e6e6"/>
<rect x="515.10" y="528.70" width="8.38" height="8.41" fill="#e6e6e6"/>
<rect x="523.43" y="528.70" width="8.38" height="8.41" fill="#c6e6c6"/>
<rect x="531.76" y="528.70" width="8.38" height="8.41" fill="#e1daec"/>
<rect x="540.08" y="528.70" width="8.38" height="8.41" fill="#ffffd0"/>
<rect x="548.41" y="528.70" width="8.38" height="8.41" fill="#e1daec"/>
<rect x="556.73" y="528.70" width="7.17" height="8.41" fill="#ffffd0"/>
<text x="402.7" y="535.1" font-size="6.4" text-anchor="middle" textLength="5.0" lengthAdjust="spacingAndGlyphs" fill="#4f4f4f" stroke="none">G</text>
<text x="411.0" y="535.1" font-size="6.4" text-anchor="middle" textLength="3.9" lengthAdjust="spacingAndGlyphs" fill="#4f4f4f" stroke="none">T</text>
<text x="419.4" y="535.1" font-size="6.4" text-anchor="middle" textLength="4.3" lengthAdjust="spacingAndGlyphs" fill="#4f4f4f" stroke="none">A</text>
<text x="427.7" y="535.1" font-size="6.4" text-anchor="middle" textLength="5.0" lengthAdjust="spacingAndGlyphs" fill="#4f4f4f" stroke="none">G</text>
<text x="436.0" y="535.1" font-size="6.4" text-anchor="middle" textLength="4.6" lengthAdjust="spacingAndGlyphs" fill="#4f4f4f" stroke="none">C</text>
<text x="444.3" y="535.1" font-size="6.4" text-anchor="middle" textLength="4.6" lengthAdjust="spacingAndGlyphs" fill="#4f4f4f" stroke="none">C</text>
<text x="452.7" y="535.1" font-size="6.4" text-anchor="middle" textLength="4.3" lengthAdjust="spacingAndGlyphs" fill="#4f4f4f" stroke="none">A</text>
<text x="461.0" y="535.1" font-size="6.4" text-anchor="middle" textLength="3.9" lengthAdjust="spacingAndGlyphs" fill="#4f4f4f" stroke="none">T</text>
<text x="469.3" y="535.1" font-size="6.4" text-anchor="middle" textLength="5.0" lengthAdjust="spacingAndGlyphs" fill="#4f4f4f" stroke="none">G</text>
<text x="477.6" y="535.1" font-size="6.4" text-anchor="middle" textLength="4.6" lengthAdjust="spacingAndGlyphs" fill="#4f4f4f" stroke="none">C</text>
<text x="486.0" y="535.1" font-size="6.4" text-anchor="middle" textLength="3.9" lengthAdjust="spacingAndGlyphs" fill="#4f4f4f" stroke="none">T</text>
<line x1="493.5" y1="532.9" x2="495.1" y2="532.9" stroke="#555" stroke-width="0.6"/>
<line x1="501.8" y1="532.9" x2="503.4" y2="532.9" stroke="#555" stroke-width="0.6"/>
<line x1="510.1" y1="532.9" x2="511.7" y2="532.9" stroke="#555" stroke-width="0.6"/>
<line x1="518.5" y1="532.9" x2="520.1" y2="532.9" stroke="#555" stroke-width="0.6"/>
<text x="527.6" y="535.1" font-size="6.4" text-anchor="middle" textLength="4.3" lengthAdjust="spacingAndGlyphs" fill="#4f4f4f" stroke="none">A</text>
<text x="535.9" y="535.1" font-size="6.4" text-anchor="middle" textLength="3.9" lengthAdjust="spacingAndGlyphs" fill="#4f4f4f" stroke="none">T</text>
<text x="544.2" y="535.1" font-size="6.4" text-anchor="middle" textLength="5.0" lengthAdjust="spacingAndGlyphs" fill="#4f4f4f" stroke="none">G</text>
<text x="552.6" y="535.1" font-size="6.4" text-anchor="middle" textLength="3.9" lengthAdjust="spacingAndGlyphs" fill="#4f4f4f" stroke="none">T</text>
<text x="560.9" y="535.1" font-size="6.4" text-anchor="middle" textLength="5.0" lengthAdjust="spacingAndGlyphs" fill="#4f4f4f" stroke="none">G</text>
<text x="568.3" y="535.0" font-size="7.18" textLength="51.8" lengthAdjust="spacingAndGlyphs" fill="#222" stroke="#222" stroke-width="0.12">-0.19% (7 reads)</text>
<rect x="398.10" y="537.06" width="8.82" height="8.41" fill="#ffffd0"/>
<rect x="406.87" y="537.06" width="8.38" height="8.41" fill="#e1daec"/>
<rect x="415.19" y="537.06" width="8.38" height="8.41" fill="#c6e6c6"/>
<rect x="423.52" y="537.06" width="8.38" height="8.41" fill="#ffffd0"/>
<rect x="431.84" y="537.06" width="8.38" height="8.41" fill="#fde2c9"/>
<rect x="440.17" y="537.06" width="8.38" height="8.41" fill="#fde2c9"/>
<rect x="448.50" y="537.06" width="8.38" height="8.41" fill="#c6e6c6"/>
<rect x="456.82" y="537.06" width="8.38" height="8.41" fill="#e1daec"/>
<rect x="465.15" y="537.06" width="8.38" height="8.41" fill="#ffffd0"/>
<rect x="473.47" y="537.06" width="8.38" height="8.41" fill="#fde2c9"/>
<rect x="481.80" y="537.06" width="8.38" height="8.41" fill="#e1daec"/>
<rect x="490.13" y="537.06" width="8.38" height="8.41" fill="#ffffd0"/>
<rect x="498.45" y="537.06" width="8.38" height="8.41" fill="#e6e6e6"/>
<rect x="506.78" y="537.06" width="8.38" height="8.41" fill="#e6e6e6"/>
<rect x="515.10" y="537.06" width="8.38" height="8.41" fill="#e6e6e6"/>
<rect x="523.43" y="537.06" width="8.38" height="8.41" fill="#c6e6c6"/>
<rect x="531.76" y="537.06" width="8.38" height="8.41" fill="#e1daec"/>
<rect x="540.08" y="537.06" width="8.38" height="8.41" fill="#ffffd0"/>
<rect x="548.41" y="537.06" width="8.38" height="8.41" fill="#e1daec"/>
<rect x="556.73" y="537.06" width="7.17" height="8.41" fill="#ffffd0"/>
<text x="402.7" y="543.4" font-size="6.4" text-anchor="middle" textLength="5.0" lengthAdjust="spacingAndGlyphs" fill="#4f4f4f" stroke="none">G</text>
<text x="411.0" y="543.4" font-size="6.4" text-anchor="middle" textLength="3.9" lengthAdjust="spacingAndGlyphs" fill="#4f4f4f" stroke="none">T</text>
<text x="419.4" y="543.4" font-size="6.4" text-anchor="middle" textLength="4.3" lengthAdjust="spacingAndGlyphs" fill="#4f4f4f" stroke="none">A</text>
<text x="427.7" y="543.4" font-size="6.4" text-anchor="middle" textLength="5.0" lengthAdjust="spacingAndGlyphs" fill="#4f4f4f" stroke="none">G</text>
<text x="436.0" y="543.4" font-size="6.4" text-anchor="middle" textLength="4.6" lengthAdjust="spacingAndGlyphs" fill="#4f4f4f" stroke="none">C</text>
<text x="444.3" y="543.4" font-size="6.4" text-anchor="middle" textLength="4.6" lengthAdjust="spacingAndGlyphs" fill="#4f4f4f" stroke="none">C</text>
<text x="452.7" y="543.4" font-size="6.4" text-anchor="middle" textLength="4.3" lengthAdjust="spacingAndGlyphs" fill="#4f4f4f" stroke="none">A</text>
<text x="461.0" y="543.4" font-size="6.4" text-anchor="middle" textLength="3.9" lengthAdjust="spacingAndGlyphs" fill="#4f4f4f" stroke="none">T</text>
<text x="469.3" y="543.4" font-size="6.4" text-anchor="middle" textLength="5.0" lengthAdjust="spacingAndGlyphs" fill="#4f4f4f" stroke="none">G</text>
<text x="477.6" y="543.4" font-size="6.4" text-anchor="middle" textLength="4.6" lengthAdjust="spacingAndGlyphs" fill="#4f4f4f" stroke="none">C</text>
<text x="486.0" y="543.4" font-size="6.4" text-anchor="middle" textLength="3.9" lengthAdjust="spacingAndGlyphs" fill="#4f4f4f" stroke="none">T</text>
<text x="494.3" y="543.4" font-size="6.4" text-anchor="middle" textLength="5.0" lengthAdjust="spacingAndGlyphs" fill="#4f4f4f" stroke="none">G</text>
<line x1="501.8" y1="541.2" x2="503.4" y2="541.2" stroke="#c4c4c4" stroke-width="0.6"/>
<line x1="510.1" y1="541.2" x2="511.7" y2="541.2" stroke="#c4c4c4" stroke-width="0.6"/>
<line x1="518.5" y1="541.2" x2="520.1" y2="541.2" stroke="#c4c4c4" stroke-width="0.6"/>
<text x="527.6" y="543.4" font-size="6.4" text-anchor="middle" textLength="4.3" lengthAdjust="spacingAndGlyphs" fill="#4f4f4f" stroke="none">A</text>
<text x="535.9" y="543.4" font-size="6.4" text-anchor="middle" textLength="3.9" lengthAdjust="spacingAndGlyphs" fill="#4f4f4f" stroke="none">T</text>
<text x="544.2" y="543.4" font-size="6.4" text-anchor="middle" textLength="5.0" lengthAdjust="spacingAndGlyphs" fill="#4f4f4f" stroke="none">G</text>
<text x="552.6" y="543.4" font-size="6.4" text-anchor="middle" textLength="3.9" lengthAdjust="spacingAndGlyphs" fill="#4f4f4f" stroke="none">T</text>
<text x="560.9" y="543.4" font-size="6.4" text-anchor="middle" textLength="5.0" lengthAdjust="spacingAndGlyphs" fill="#4f4f4f" stroke="none">G</text>
<text x="568.3" y="543.3" font-size="7.18" textLength="52.3" lengthAdjust="spacingAndGlyphs" fill="#222" stroke="#222" stroke-width="0.12">-0.13% (5 reads)</text>
<rect x="398.10" y="545.42" width="8.82" height="8.41" fill="#ffffd0"/>
<rect x="406.87" y="545.42" width="8.38" height="8.41" fill="#e1daec"/>
<rect x="415.19" y="545.42" width="8.38" height="8.41" fill="#c6e6c6"/>
<rect x="423.52" y="545.42" width="8.38" height="8.41" fill="#ffffd0"/>
<rect x="431.84" y="545.42" width="8.38" height="8.41" fill="#e6e6e6"/>
<rect x="440.17" y="545.42" width="8.38" height="8.41" fill="#e6e6e6"/>
<rect x="448.50" y="545.42" width="8.38" height="8.41" fill="#e6e6e6"/>
<rect x="456.82" y="545.42" width="8.38" height="8.41" fill="#e6e6e6"/>
<rect x="465.15" y="545.42" width="8.38" height="8.41" fill="#e6e6e6"/>
<rect x="473.47" y="545.42" width="8.38" height="8.41" fill="#e6e6e6"/>
<rect x="481.80" y="545.42" width="8.38" height="8.41" fill="#e6e6e6"/>
<rect x="490.13" y="545.42" width="8.38" height="8.41" fill="#e6e6e6"/>
<rect x="498.45" y="545.42" width="8.38" height="8.41" fill="#e6e6e6"/>
<rect x="506.78" y="545.42" width="8.38" height="8.41" fill="#e6e6e6"/>
<rect x="515.10" y="545.42" width="8.38" height="8.41" fill="#e6e6e6"/>
<rect x="523.43" y="545.42" width="8.38" height="8.41" fill="#c6e6c6"/>
<rect x="531.76" y="545.42" width="8.38" height="8.41" fill="#e1daec"/>
<rect x="540.08" y="545.42" width="8.38" height="8.41" fill="#ffffd0"/>
<rect x="548.41" y="545.42" width="8.38" height="8.41" fill="#e1daec"/>
<rect x="556.73" y="545.42" width="7.17" height="8.41" fill="#ffffd0"/>
<text x="402.7" y="551.8" font-size="6.4" text-anchor="middle" textLength="5.0" lengthAdjust="spacingAndGlyphs" fill="#4f4f4f" stroke="none">G</text>
<text x="411.0" y="551.8" font-size="6.4" text-anchor="middle" textLength="3.9" lengthAdjust="spacingAndGlyphs" fill="#4f4f4f" stroke="none">T</text>
<text x="419.4" y="551.8" font-size="6.4" text-anchor="middle" textLength="4.3" lengthAdjust="spacingAndGlyphs" fill="#4f4f4f" stroke="none">A</text>
<text x="427.7" y="551.8" font-size="6.4" text-anchor="middle" textLength="5.0" lengthAdjust="spacingAndGlyphs" fill="#4f4f4f" stroke="none">G</text>
<line x1="435.2" y1="549.6" x2="436.8" y2="549.6" stroke="#555" stroke-width="0.6"/>
<line x1="443.5" y1="549.6" x2="445.1" y2="549.6" stroke="#555" stroke-width="0.6"/>
<line x1="451.9" y1="549.6" x2="453.5" y2="549.6" stroke="#555" stroke-width="0.6"/>
<line x1="460.2" y1="549.6" x2="461.8" y2="549.6" stroke="#555" stroke-width="0.6"/>
<line x1="468.5" y1="549.6" x2="470.1" y2="549.6" stroke="#555" stroke-width="0.6"/>
<line x1="476.8" y1="549.6" x2="478.4" y2="549.6" stroke="#555" stroke-width="0.6"/>
<line x1="485.2" y1="549.6" x2="486.8" y2="549.6" stroke="#555" stroke-width="0.6"/>
<line x1="493.5" y1="549.6" x2="495.1" y2="549.6" stroke="#555" stroke-width="0.6"/>
<line x1="501.8" y1="549.6" x2="503.4" y2="549.6" stroke="#555" stroke-width="0.6"/>
<line x1="510.1" y1="549.6" x2="511.7" y2="549.6" stroke="#555" stroke-width="0.6"/>
<line x1="518.5" y1="549.6" x2="520.1" y2="549.6" stroke="#555" stroke-width="0.6"/>
<text x="527.6" y="551.8" font-size="6.4" text-anchor="middle" textLength="4.3" lengthAdjust="spacingAndGlyphs" fill="#4f4f4f" stroke="none">A</text>
<text x="535.9" y="551.8" font-size="6.4" text-anchor="middle" textLength="3.9" lengthAdjust="spacingAndGlyphs" fill="#4f4f4f" stroke="none">T</text>
<text x="544.2" y="551.8" font-size="6.4" text-anchor="middle" textLength="5.0" lengthAdjust="spacingAndGlyphs" fill="#4f4f4f" stroke="none">G</text>
<text x="552.6" y="551.8" font-size="6.4" text-anchor="middle" textLength="3.9" lengthAdjust="spacingAndGlyphs" fill="#4f4f4f" stroke="none">T</text>
<text x="560.9" y="551.8" font-size="6.4" text-anchor="middle" textLength="5.0" lengthAdjust="spacingAndGlyphs" fill="#4f4f4f" stroke="none">G</text>
<text x="568.3" y="551.7" font-size="7.18" textLength="50.8" lengthAdjust="spacingAndGlyphs" fill="#222" stroke="#222" stroke-width="0.12">-0.11% (4 reads)</text>
<rect x="398.10" y="553.78" width="8.82" height="8.41" fill="#ffffd0"/>
<rect x="406.87" y="553.78" width="8.38" height="8.41" fill="#e1daec"/>
<rect x="415.19" y="553.78" width="8.38" height="8.41" fill="#c6e6c6"/>
<rect x="423.52" y="553.78" width="8.38" height="8.41" fill="#ffffd0"/>
<rect x="431.84" y="553.78" width="8.38" height="8.41" fill="#fde2c9"/>
<rect x="440.17" y="553.78" width="8.38" height="8.41" fill="#fde2c9"/>
<rect x="448.50" y="553.78" width="8.38" height="8.41" fill="#c6e6c6"/>
<rect x="456.82" y="553.78" width="8.38" height="8.41" fill="#e1daec"/>
<rect x="465.15" y="553.78" width="8.38" height="8.41" fill="#ffffd0"/>
<rect x="473.47" y="553.78" width="8.38" height="8.41" fill="#e6e6e6"/>
<rect x="481.80" y="553.78" width="8.38" height="8.41" fill="#e6e6e6"/>
<rect x="490.13" y="553.78" width="8.38" height="8.41" fill="#e6e6e6"/>
<rect x="498.45" y="553.78" width="8.38" height="8.41" fill="#e1daec"/>
<rect x="506.78" y="553.78" width="8.38" height="8.41" fill="#c6e6c6"/>
<rect x="515.10" y="553.78" width="8.38" height="8.41" fill="#ffffd0"/>
<rect x="523.43" y="553.78" width="8.38" height="8.41" fill="#c6e6c6"/>
<rect x="531.76" y="553.78" width="8.38" height="8.41" fill="#e1daec"/>
<rect x="540.08" y="553.78" width="8.38" height="8.41" fill="#ffffd0"/>
<rect x="548.41" y="553.78" width="8.38" height="8.41" fill="#e1daec"/>
<rect x="556.73" y="553.78" width="7.17" height="8.41" fill="#ffffd0"/>
<text x="402.7" y="560.2" font-size="6.4" text-anchor="middle" textLength="5.0" lengthAdjust="spacingAndGlyphs" fill="#4f4f4f" stroke="none">G</text>
<text x="411.0" y="560.2" font-size="6.4" text-anchor="middle" textLength="3.9" lengthAdjust="spacingAndGlyphs" fill="#4f4f4f" stroke="none">T</text>
<text x="419.4" y="560.2" font-size="6.4" text-anchor="middle" textLength="4.3" lengthAdjust="spacingAndGlyphs" fill="#4f4f4f" stroke="none">A</text>
<text x="427.7" y="560.2" font-size="6.4" text-anchor="middle" textLength="5.0" lengthAdjust="spacingAndGlyphs" fill="#4f4f4f" stroke="none">G</text>
<text x="436.0" y="560.2" font-size="6.4" text-anchor="middle" textLength="4.6" lengthAdjust="spacingAndGlyphs" fill="#4f4f4f" stroke="none">C</text>
<text x="444.3" y="560.2" font-size="6.4" text-anchor="middle" textLength="4.6" lengthAdjust="spacingAndGlyphs" fill="#4f4f4f" stroke="none">C</text>
<text x="452.7" y="560.2" font-size="6.4" text-anchor="middle" textLength="4.3" lengthAdjust="spacingAndGlyphs" fill="#4f4f4f" stroke="none">A</text>
<text x="461.0" y="560.2" font-size="6.4" text-anchor="middle" textLength="3.9" lengthAdjust="spacingAndGlyphs" fill="#4f4f4f" stroke="none">T</text>
<text x="469.3" y="560.2" font-size="6.4" text-anchor="middle" textLength="5.0" lengthAdjust="spacingAndGlyphs" fill="#4f4f4f" stroke="none">G</text>
<line x1="476.8" y1="558.0" x2="478.4" y2="558.0" stroke="#555" stroke-width="0.6"/>
<line x1="485.2" y1="558.0" x2="486.8" y2="558.0" stroke="#555" stroke-width="0.6"/>
<line x1="493.5" y1="558.0" x2="495.1" y2="558.0" stroke="#555" stroke-width="0.6"/>
<text x="502.6" y="560.2" font-size="6.4" text-anchor="middle" textLength="3.9" lengthAdjust="spacingAndGlyphs" fill="#4f4f4f" stroke="none">T</text>
<text x="510.9" y="560.2" font-size="6.4" text-anchor="middle" textLength="4.3" lengthAdjust="spacingAndGlyphs" fill="#4f4f4f" stroke="none">A</text>
<text x="519.3" y="560.2" font-size="6.4" text-anchor="middle" textLength="5.0" lengthAdjust="spacingAndGlyphs" fill="#4f4f4f" stroke="none">G</text>
<text x="527.6" y="560.2" font-size="6.4" text-anchor="middle" textLength="4.3" lengthAdjust="spacingAndGlyphs" fill="#4f4f4f" stroke="none">A</text>
<text x="535.9" y="560.2" font-size="6.4" text-anchor="middle" textLength="3.9" lengthAdjust="spacingAndGlyphs" fill="#4f4f4f" stroke="none">T</text>
<text x="544.2" y="560.2" font-size="6.4" text-anchor="middle" textLength="5.0" lengthAdjust="spacingAndGlyphs" fill="#4f4f4f" stroke="none">G</text>
<text x="552.6" y="560.2" font-size="6.4" text-anchor="middle" textLength="3.9" lengthAdjust="spacingAndGlyphs" fill="#4f4f4f" stroke="none">T</text>
<text x="560.9" y="560.2" font-size="6.4" text-anchor="middle" textLength="5.0" lengthAdjust="spacingAndGlyphs" fill="#4f4f4f" stroke="none">G</text>
<text x="568.3" y="560.0" font-size="7.18" textLength="50.8" lengthAdjust="spacingAndGlyphs" fill="#222" stroke="#222" stroke-width="0.12">-0.11% (4 reads)</text>
<rect x="482.3" y="495.6" width="7.7" height="7.8" fill="none" stroke="#cc2a36" stroke-width="0.9"/>
<line x1="481.6" y1="486.9" x2="481.6" y2="562.1" stroke="#3f6fc4" stroke-width="0.7" stroke-dasharray="1.4 1.1"/>
<text x="405.8" y="599.0" font-size="9.78" textLength="136.6" lengthAdjust="spacingAndGlyphs" fill="#8a3fc9" stroke="none">POT1 (Chr17:24463130-24463149)</text>
<rect x="398.10" y="602.30" width="8.46" height="8.25" fill="#fde2c9"/>
<rect x="406.51" y="602.30" width="8.26" height="8.25" fill="#c6e6c6"/>
<rect x="414.72" y="602.30" width="8.26" height="8.25" fill="#fde2c9"/>
<rect x="422.93" y="602.30" width="8.26" height="8.25" fill="#ffffd0"/>
<rect x="431.14" y="602.30" width="8.26" height="8.25" fill="#c6e6c6"/>
<rect x="439.35" y="602.30" width="8.26" height="8.25" fill="#fde2c9"/>
<rect x="447.56" y="602.30" width="8.26" height="8.25" fill="#e1daec"/>
<rect x="455.77" y="602.30" width="8.26" height="8.25" fill="#c6e6c6"/>
<rect x="463.98" y="602.30" width="8.26" height="8.25" fill="#fde2c9"/>
<rect x="472.19" y="602.30" width="8.26" height="8.25" fill="#c6e6c6"/>
<rect x="480.40" y="602.30" width="8.26" height="8.25" fill="#ffffd0"/>
<rect x="488.61" y="602.30" width="8.26" height="8.25" fill="#fde2c9"/>
<rect x="496.82" y="602.30" width="8.26" height="8.25" fill="#c6e6c6"/>
<rect x="505.03" y="602.30" width="8.26" height="8.25" fill="#ffffd0"/>
<rect x="513.24" y="602.30" width="8.26" height="8.25" fill="#ffffd0"/>
<rect x="521.45" y="602.30" width="8.26" height="8.25" fill="#ffffd0"/>
<rect x="529.66" y="602.30" width="8.26" height="8.25" fill="#c6e6c6"/>
<rect x="537.87" y="602.30" width="8.26" height="8.25" fill="#fde2c9"/>
<rect x="546.08" y="602.30" width="8.26" height="8.25" fill="#c6e6c6"/>
<rect x="554.29" y="602.30" width="7.11" height="8.25" fill="#e1daec"/>
<text x="402.4" y="608.6" font-size="6.4" text-anchor="middle" textLength="4.6" lengthAdjust="spacingAndGlyphs" fill="#4f4f4f" stroke="none">C</text>
<text x="410.6" y="608.6" font-size="6.4" text-anchor="middle" textLength="4.3" lengthAdjust="spacingAndGlyphs" fill="#4f4f4f" stroke="none">A</text>
<text x="418.8" y="608.6" font-size="6.4" text-anchor="middle" textLength="4.6" lengthAdjust="spacingAndGlyphs" fill="#4f4f4f" stroke="none">C</text>
<text x="427.0" y="608.6" font-size="6.4" text-anchor="middle" textLength="5.0" lengthAdjust="spacingAndGlyphs" fill="#4f4f4f" stroke="none">G</text>
<text x="435.2" y="608.6" font-size="6.4" text-anchor="middle" textLength="4.3" lengthAdjust="spacingAndGlyphs" fill="#4f4f4f" stroke="none">A</text>
<text x="443.5" y="608.6" font-size="6.4" text-anchor="middle" textLength="4.6" lengthAdjust="spacingAndGlyphs" fill="#4f4f4f" stroke="none">C</text>
<text x="451.7" y="608.6" font-size="6.4" text-anchor="middle" textLength="3.9" lengthAdjust="spacingAndGlyphs" fill="#4f4f4f" stroke="none">T</text>
<text x="459.9" y="608.6" font-size="6.4" text-anchor="middle" textLength="4.3" lengthAdjust="spacingAndGlyphs" fill="#4f4f4f" stroke="none">A</text>
<text x="468.1" y="608.6" font-size="6.4" text-anchor="middle" textLength="4.6" lengthAdjust="spacingAndGlyphs" fill="#4f4f4f" stroke="none">C</text>
<text x="476.3" y="608.6" font-size="6.4" text-anchor="middle" textLength="4.3" lengthAdjust="spacingAndGlyphs" fill="#4f4f4f" stroke="none">A</text>
<text x="484.5" y="608.6" font-size="6.4" text-anchor="middle" textLength="5.0" lengthAdjust="spacingAndGlyphs" fill="#4f4f4f" stroke="none">G</text>
<text x="492.7" y="608.6" font-size="6.4" text-anchor="middle" textLength="4.6" lengthAdjust="spacingAndGlyphs" fill="#4f4f4f" stroke="none">C</text>
<text x="500.9" y="608.6" font-size="6.4" text-anchor="middle" textLength="4.3" lengthAdjust="spacingAndGlyphs" fill="#4f4f4f" stroke="none">A</text>
<text x="509.1" y="608.6" font-size="6.4" text-anchor="middle" textLength="5.0" lengthAdjust="spacingAndGlyphs" fill="#4f4f4f" stroke="none">G</text>
<text x="517.3" y="608.6" font-size="6.4" text-anchor="middle" textLength="5.0" lengthAdjust="spacingAndGlyphs" fill="#4f4f4f" stroke="none">G</text>
<text x="525.6" y="608.6" font-size="6.4" text-anchor="middle" textLength="5.0" lengthAdjust="spacingAndGlyphs" fill="#4f4f4f" stroke="none">G</text>
<text x="533.8" y="608.6" font-size="6.4" text-anchor="middle" textLength="4.3" lengthAdjust="spacingAndGlyphs" fill="#4f4f4f" stroke="none">A</text>
<text x="542.0" y="608.6" font-size="6.4" text-anchor="middle" textLength="4.6" lengthAdjust="spacingAndGlyphs" fill="#4f4f4f" stroke="none">C</text>
<text x="550.2" y="608.6" font-size="6.4" text-anchor="middle" textLength="4.3" lengthAdjust="spacingAndGlyphs" fill="#4f4f4f" stroke="none">A</text>
<text x="558.4" y="608.6" font-size="6.4" text-anchor="middle" textLength="3.9" lengthAdjust="spacingAndGlyphs" fill="#4f4f4f" stroke="none">T</text>
<text x="566.5" y="610.5" font-size="8.63" textLength="43.3" lengthAdjust="spacingAndGlyphs">-Reference</text>
<text x="398.9" y="619.4" font-size="8.94" textLength="25.8" lengthAdjust="spacingAndGlyphs">sgRNA</text>
<rect x="424.90" y="613.90" width="81.40" height="4.80" fill="#d6d6d6"/>
<rect x="398.10" y="626.90" width="8.46" height="8.25" fill="#fde2c9"/>
<rect x="406.51" y="626.90" width="8.26" height="8.25" fill="#c6e6c6"/>
<rect x="414.72" y="626.90" width="8.26" height="8.25" fill="#fde2c9"/>
<rect x="422.93" y="626.90" width="8.26" height="8.25" fill="#ffffd0"/>
<rect x="431.14" y="626.90" width="8.26" height="8.25" fill="#c6e6c6"/>
<rect x="439.35" y="626.90" width="8.26" height="8.25" fill="#fde2c9"/>
<rect x="447.56" y="626.90" width="8.26" height="8.25" fill="#e1daec"/>
<rect x="455.77" y="626.90" width="8.26" height="8.25" fill="#c6e6c6"/>
<rect x="463.98" y="626.90" width="8.26" height="8.25" fill="#fde2c9"/>
<rect x="472.19" y="626.90" width="8.26" height="8.25" fill="#c6e6c6"/>
<rect x="480.40" y="626.90" width="8.26" height="8.25" fill="#ffffd0"/>
<rect x="488.61" y="626.90" width="8.26" height="8.25" fill="#fde2c9"/>
<rect x="496.82" y="626.90" width="8.26" height="8.25" fill="#c6e6c6"/>
<rect x="505.03" y="626.90" width="8.26" height="8.25" fill="#ffffd0"/>
<rect x="513.24" y="626.90" width="8.26" height="8.25" fill="#ffffd0"/>
<rect x="521.45" y="626.90" width="8.26" height="8.25" fill="#ffffd0"/>
<rect x="529.66" y="626.90" width="8.26" height="8.25" fill="#c6e6c6"/>
<rect x="537.87" y="626.90" width="8.26" height="8.25" fill="#fde2c9"/>
<rect x="546.08" y="626.90" width="8.26" height="8.25" fill="#c6e6c6"/>
<rect x="554.29" y="626.90" width="7.11" height="8.25" fill="#e1daec"/>
<text x="402.4" y="633.2" font-size="6.4" text-anchor="middle" textLength="4.6" lengthAdjust="spacingAndGlyphs" fill="#4f4f4f" stroke="none">C</text>
<text x="410.6" y="633.2" font-size="6.4" text-anchor="middle" textLength="4.3" lengthAdjust="spacingAndGlyphs" fill="#4f4f4f" stroke="none">A</text>
<text x="418.8" y="633.2" font-size="6.4" text-anchor="middle" textLength="4.6" lengthAdjust="spacingAndGlyphs" fill="#4f4f4f" stroke="none">C</text>
<text x="427.0" y="633.2" font-size="6.4" text-anchor="middle" textLength="5.0" lengthAdjust="spacingAndGlyphs" fill="#4f4f4f" stroke="none">G</text>
<text x="435.2" y="633.2" font-size="6.4" text-anchor="middle" textLength="4.3" lengthAdjust="spacingAndGlyphs" fill="#4f4f4f" stroke="none">A</text>
<text x="443.5" y="633.2" font-size="6.4" text-anchor="middle" textLength="4.6" lengthAdjust="spacingAndGlyphs" fill="#4f4f4f" stroke="none">C</text>
<text x="451.7" y="633.2" font-size="6.4" text-anchor="middle" textLength="3.9" lengthAdjust="spacingAndGlyphs" fill="#4f4f4f" stroke="none">T</text>
<text x="459.9" y="633.2" font-size="6.4" text-anchor="middle" textLength="4.3" lengthAdjust="spacingAndGlyphs" fill="#4f4f4f" stroke="none">A</text>
<text x="468.1" y="633.2" font-size="6.4" text-anchor="middle" textLength="4.6" lengthAdjust="spacingAndGlyphs" fill="#4f4f4f" stroke="none">C</text>
<text x="476.3" y="633.2" font-size="6.4" text-anchor="middle" textLength="4.3" lengthAdjust="spacingAndGlyphs" fill="#4f4f4f" stroke="none">A</text>
<text x="484.5" y="633.2" font-size="6.4" text-anchor="middle" textLength="5.0" lengthAdjust="spacingAndGlyphs" fill="#4f4f4f" stroke="none">G</text>
<text x="492.7" y="633.2" font-size="6.4" text-anchor="middle" textLength="4.6" lengthAdjust="spacingAndGlyphs" fill="#4f4f4f" stroke="none">C</text>
<text x="500.9" y="633.2" font-size="6.4" text-anchor="middle" textLength="4.3" lengthAdjust="spacingAndGlyphs" fill="#4f4f4f" stroke="none">A</text>
<text x="509.1" y="633.2" font-size="6.4" text-anchor="middle" textLength="5.0" lengthAdjust="spacingAndGlyphs" fill="#4f4f4f" stroke="none">G</text>
<text x="517.3" y="633.2" font-size="6.4" text-anchor="middle" textLength="5.0" lengthAdjust="spacingAndGlyphs" fill="#4f4f4f" stroke="none">G</text>
<text x="525.6" y="633.2" font-size="6.4" text-anchor="middle" textLength="5.0" lengthAdjust="spacingAndGlyphs" fill="#4f4f4f" stroke="none">G</text>
<text x="533.8" y="633.2" font-size="6.4" text-anchor="middle" textLength="4.3" lengthAdjust="spacingAndGlyphs" fill="#4f4f4f" stroke="none">A</text>
<text x="542.0" y="633.2" font-size="6.4" text-anchor="middle" textLength="4.6" lengthAdjust="spacingAndGlyphs" fill="#4f4f4f" stroke="none">C</text>
<text x="550.2" y="633.2" font-size="6.4" text-anchor="middle" textLength="4.3" lengthAdjust="spacingAndGlyphs" fill="#4f4f4f" stroke="none">A</text>
<text x="558.4" y="633.2" font-size="6.4" text-anchor="middle" textLength="3.9" lengthAdjust="spacingAndGlyphs" fill="#4f4f4f" stroke="none">T</text>
<text x="566.1" y="632.6" font-size="8.63" textLength="86.2" lengthAdjust="spacingAndGlyphs">-92.69% (1,001 reads)</text>
<rect x="398.10" y="635.10" width="8.46" height="8.25" fill="#fde2c9"/>
<rect x="406.51" y="635.10" width="8.26" height="8.25" fill="#c6e6c6"/>
<rect x="414.72" y="635.10" width="8.26" height="8.25" fill="#fde2c9"/>
<rect x="422.93" y="635.10" width="8.26" height="8.25" fill="#ffffd0"/>
<rect x="431.14" y="635.10" width="8.26" height="8.25" fill="#c6e6c6"/>
<rect x="439.35" y="635.10" width="8.26" height="8.25" fill="#fde2c9"/>
<rect x="447.56" y="635.10" width="8.26" height="8.25" fill="#e1daec"/>
<rect x="455.77" y="635.10" width="8.26" height="8.25" fill="#c6e6c6"/>
<rect x="463.98" y="635.10" width="8.26" height="8.25" fill="#fde2c9"/>
<rect x="472.19" y="635.10" width="8.26" height="8.25" fill="#c6e6c6"/>
<rect x="480.40" y="635.10" width="8.26" height="8.25" fill="#c6e6c6"/>
<rect x="488.61" y="635.10" width="8.26" height="8.25" fill="#ffffd0"/>
<rect x="496.82" y="635.10" width="8.26" height="8.25" fill="#fde2c9"/>
<rect x="505.03" y="635.10" width="8.26" height="8.25" fill="#c6e6c6"/>
<rect x="513.24" y="635.10" width="8.26" height="8.25" fill="#ffffd0"/>
<rect x="521.45" y="635.10" width="8.26" height="8.25" fill="#ffffd0"/>
<rect x="529.66" y="635.10" width="8.26" height="8.25" fill="#ffffd0"/>
<rect x="537.87" y="635.10" width="8.26" height="8.25" fill="#c6e6c6"/>
<rect x="546.08" y="635.10" width="8.26" height="8.25" fill="#fde2c9"/>
<rect x="554.29" y="635.10" width="7.11" height="8.25" fill="#c6e6c6"/>
<text x="402.4" y="641.4" font-size="6.4" text-anchor="middle" textLength="4.6" lengthAdjust="spacingAndGlyphs" fill="#4f4f4f" stroke="none">C</text>
<text x="410.6" y="641.4" font-size="6.4" text-anchor="middle" textLength="4.3" lengthAdjust="spacingAndGlyphs" fill="#4f4f4f" stroke="none">A</text>
<text x="418.8" y="641.4" font-size="6.4" text-anchor="middle" textLength="4.6" lengthAdjust="spacingAndGlyphs" fill="#4f4f4f" stroke="none">C</text>
<text x="427.0" y="641.4" font-size="6.4" text-anchor="middle" textLength="5.0" lengthAdjust="spacingAndGlyphs" fill="#4f4f4f" stroke="none">G</text>
<text x="435.2" y="641.4" font-size="6.4" text-anchor="middle" textLength="4.3" lengthAdjust="spacingAndGlyphs" fill="#4f4f4f" stroke="none">A</text>
<text x="443.5" y="641.4" font-size="6.4" text-anchor="middle" textLength="4.6" lengthAdjust="spacingAndGlyphs" fill="#4f4f4f" stroke="none">C</text>
<text x="451.7" y="641.4" font-size="6.4" text-anchor="middle" textLength="3.9" lengthAdjust="spacingAndGlyphs" fill="#4f4f4f" stroke="none">T</text>
<text x="459.9" y="641.4" font-size="6.4" text-anchor="middle" textLength="4.3" lengthAdjust="spacingAndGlyphs" fill="#4f4f4f" stroke="none">A</text>
<text x="468.1" y="641.4" font-size="6.4" text-anchor="middle" textLength="4.6" lengthAdjust="spacingAndGlyphs" fill="#4f4f4f" stroke="none">C</text>
<text x="476.3" y="641.4" font-size="6.4" text-anchor="middle" textLength="4.3" lengthAdjust="spacingAndGlyphs" fill="#4f4f4f" stroke="none">A</text>
<text x="484.5" y="641.4" font-size="6.4" text-anchor="middle" textLength="4.3" lengthAdjust="spacingAndGlyphs" fill="#4f4f4f" stroke="none">A</text>
<text x="492.7" y="641.4" font-size="6.4" text-anchor="middle" textLength="5.0" lengthAdjust="spacingAndGlyphs" fill="#4f4f4f" stroke="none">G</text>
<text x="500.9" y="641.4" font-size="6.4" text-anchor="middle" textLength="4.6" lengthAdjust="spacingAndGlyphs" fill="#4f4f4f" stroke="none">C</text>
<text x="509.1" y="641.4" font-size="6.4" text-anchor="middle" textLength="4.3" lengthAdjust="spacingAndGlyphs" fill="#4f4f4f" stroke="none">A</text>
<text x="517.3" y="641.4" font-size="6.4" text-anchor="middle" textLength="5.0" lengthAdjust="spacingAndGlyphs" fill="#4f4f4f" stroke="none">G</text>
<text x="525.6" y="641.4" font-size="6.4" text-anchor="middle" textLength="5.0" lengthAdjust="spacingAndGlyphs" fill="#4f4f4f" stroke="none">G</text>
<text x="533.8" y="641.4" font-size="6.4" text-anchor="middle" textLength="5.0" lengthAdjust="spacingAndGlyphs" fill="#4f4f4f" stroke="none">G</text>
<text x="542.0" y="641.4" font-size="6.4" text-anchor="middle" textLength="4.3" lengthAdjust="spacingAndGlyphs" fill="#4f4f4f" stroke="none">A</text>
<text x="550.2" y="641.4" font-size="6.4" text-anchor="middle" textLength="4.6" lengthAdjust="spacingAndGlyphs" fill="#4f4f4f" stroke="none">C</text>
<text x="558.4" y="641.4" font-size="6.4" text-anchor="middle" textLength="4.3" lengthAdjust="spacingAndGlyphs" fill="#4f4f4f" stroke="none">A</text>
<text x="566.1" y="641.2" font-size="8.63" textLength="69.8" lengthAdjust="spacingAndGlyphs">-5.46% (59 reads)</text>
<rect x="398.10" y="643.30" width="8.46" height="8.25" fill="#fde2c9"/>
<rect x="406.51" y="643.30" width="8.26" height="8.25" fill="#c6e6c6"/>
<rect x="414.72" y="643.30" width="8.26" height="8.25" fill="#fde2c9"/>
<rect x="422.93" y="643.30" width="8.26" height="8.25" fill="#ffffd0"/>
<rect x="431.14" y="643.30" width="8.26" height="8.25" fill="#c6e6c6"/>
<rect x="439.35" y="643.30" width="8.26" height="8.25" fill="#fde2c9"/>
<rect x="447.56" y="643.30" width="8.26" height="8.25" fill="#e1daec"/>
<rect x="455.77" y="643.30" width="8.26" height="8.25" fill="#c6e6c6"/>
<rect x="463.98" y="643.30" width="8.26" height="8.25" fill="#fde2c9"/>
<rect x="472.19" y="643.30" width="8.26" height="8.25" fill="#fde2c9"/>
<rect x="480.40" y="643.30" width="8.26" height="8.25" fill="#ffffd0"/>
<rect x="488.61" y="643.30" width="8.26" height="8.25" fill="#fde2c9"/>
<rect x="496.82" y="643.30" width="8.26" height="8.25" fill="#c6e6c6"/>
<rect x="505.03" y="643.30" width="8.26" height="8.25" fill="#ffffd0"/>
<rect x="513.24" y="643.30" width="8.26" height="8.25" fill="#ffffd0"/>
<rect x="521.45" y="643.30" width="8.26" height="8.25" fill="#ffffd0"/>
<rect x="529.66" y="643.30" width="8.26" height="8.25" fill="#c6e6c6"/>
<rect x="537.87" y="643.30" width="8.26" height="8.25" fill="#fde2c9"/>
<rect x="546.08" y="643.30" width="8.26" height="8.25" fill="#c6e6c6"/>
<rect x="554.29" y="643.30" width="7.11" height="8.25" fill="#e1daec"/>
<text x="402.4" y="649.6" font-size="6.4" text-anchor="middle" textLength="4.6" lengthAdjust="spacingAndGlyphs" fill="#4f4f4f" stroke="none">C</text>
<text x="410.6" y="649.6" font-size="6.4" text-anchor="middle" textLength="4.3" lengthAdjust="spacingAndGlyphs" fill="#4f4f4f" stroke="none">A</text>
<text x="418.8" y="649.6" font-size="6.4" text-anchor="middle" textLength="4.6" lengthAdjust="spacingAndGlyphs" fill="#4f4f4f" stroke="none">C</text>
<text x="427.0" y="649.6" font-size="6.4" text-anchor="middle" textLength="5.0" lengthAdjust="spacingAndGlyphs" fill="#4f4f4f" stroke="none">G</text>
<text x="435.2" y="649.6" font-size="6.4" text-anchor="middle" textLength="4.3" lengthAdjust="spacingAndGlyphs" fill="#4f4f4f" stroke="none">A</text>
<text x="443.5" y="649.6" font-size="6.4" text-anchor="middle" textLength="4.6" lengthAdjust="spacingAndGlyphs" fill="#4f4f4f" stroke="none">C</text>
<text x="451.7" y="649.6" font-size="6.4" text-anchor="middle" textLength="3.9" lengthAdjust="spacingAndGlyphs" fill="#4f4f4f" stroke="none">T</text>
<text x="459.9" y="649.6" font-size="6.4" text-anchor="middle" textLength="4.3" lengthAdjust="spacingAndGlyphs" fill="#4f4f4f" stroke="none">A</text>
<text x="468.1" y="649.6" font-size="6.4" text-anchor="middle" textLength="4.6" lengthAdjust="spacingAndGlyphs" fill="#4f4f4f" stroke="none">C</text>
<text x="476.3" y="649.6" font-size="6.396000000000001" text-anchor="middle" textLength="4.6" lengthAdjust="spacingAndGlyphs" fill="#000" font-weight="bold" stroke="none">C</text>
<text x="484.5" y="649.6" font-size="6.4" text-anchor="middle" textLength="5.0" lengthAdjust="spacingAndGlyphs" fill="#4f4f4f" stroke="none">G</text>
<text x="492.7" y="649.6" font-size="6.4" text-anchor="middle" textLength="4.6" lengthAdjust="spacingAndGlyphs" fill="#4f4f4f" stroke="none">C</text>
<text x="500.9" y="649.6" font-size="6.4" text-anchor="middle" textLength="4.3" lengthAdjust="spacingAndGlyphs" fill="#4f4f4f" stroke="none">A</text>
<text x="509.1" y="649.6" font-size="6.4" text-anchor="middle" textLength="5.0" lengthAdjust="spacingAndGlyphs" fill="#4f4f4f" stroke="none">G</text>
<text x="517.3" y="649.6" font-size="6.4" text-anchor="middle" textLength="5.0" lengthAdjust="spacingAndGlyphs" fill="#4f4f4f" stroke="none">G</text>
<text x="525.6" y="649.6" font-size="6.4" text-anchor="middle" textLength="5.0" lengthAdjust="spacingAndGlyphs" fill="#4f4f4f" stroke="none">G</text>
<text x="533.8" y="649.6" font-size="6.4" text-anchor="middle" textLength="4.3" lengthAdjust="spacingAndGlyphs" fill="#4f4f4f" stroke="none">A</text>
<text x="542.0" y="649.6" font-size="6.4" text-anchor="middle" textLength="4.6" lengthAdjust="spacingAndGlyphs" fill="#4f4f4f" stroke="none">C</text>
<text x="550.2" y="649.6" font-size="6.4" text-anchor="middle" textLength="4.3" lengthAdjust="spacingAndGlyphs" fill="#4f4f4f" stroke="none">A</text>
<text x="558.4" y="649.6" font-size="6.4" text-anchor="middle" textLength="3.9" lengthAdjust="spacingAndGlyphs" fill="#4f4f4f" stroke="none">T</text>
<text x="566.1" y="649.1" font-size="8.63" textLength="62.8" lengthAdjust="spacingAndGlyphs">-0.19% (2 reads)</text>
<rect x="398.10" y="651.50" width="8.46" height="8.25" fill="#fde2c9"/>
<rect x="406.51" y="651.50" width="8.26" height="8.25" fill="#c6e6c6"/>
<rect x="414.72" y="651.50" width="8.26" height="8.25" fill="#fde2c9"/>
<rect x="422.93" y="651.50" width="8.26" height="8.25" fill="#ffffd0"/>
<rect x="431.14" y="651.50" width="8.26" height="8.25" fill="#c6e6c6"/>
<rect x="439.35" y="651.50" width="8.26" height="8.25" fill="#fde2c9"/>
<rect x="447.56" y="651.50" width="8.26" height="8.25" fill="#e1daec"/>
<rect x="455.77" y="651.50" width="8.26" height="8.25" fill="#ffffd0"/>
<rect x="463.98" y="651.50" width="8.26" height="8.25" fill="#fde2c9"/>
<rect x="472.19" y="651.50" width="8.26" height="8.25" fill="#c6e6c6"/>
<rect x="480.40" y="651.50" width="8.26" height="8.25" fill="#ffffd0"/>
<rect x="488.61" y="651.50" width="8.26" height="8.25" fill="#fde2c9"/>
<rect x="496.82" y="651.50" width="8.26" height="8.25" fill="#c6e6c6"/>
<rect x="505.03" y="651.50" width="8.26" height="8.25" fill="#ffffd0"/>
<rect x="513.24" y="651.50" width="8.26" height="8.25" fill="#ffffd0"/>
<rect x="521.45" y="651.50" width="8.26" height="8.25" fill="#ffffd0"/>
<rect x="529.66" y="651.50" width="8.26" height="8.25" fill="#c6e6c6"/>
<rect x="537.87" y="651.50" width="8.26" height="8.25" fill="#fde2c9"/>
<rect x="546.08" y="651.50" width="8.26" height="8.25" fill="#c6e6c6"/>
<rect x="554.29" y="651.50" width="7.11" height="8.25" fill="#e1daec"/>
<text x="402.4" y="657.8" font-size="6.4" text-anchor="middle" textLength="4.6" lengthAdjust="spacingAndGlyphs" fill="#4f4f4f" stroke="none">C</text>
<text x="410.6" y="657.8" font-size="6.4" text-anchor="middle" textLength="4.3" lengthAdjust="spacingAndGlyphs" fill="#4f4f4f" stroke="none">A</text>
<text x="418.8" y="657.8" font-size="6.4" text-anchor="middle" textLength="4.6" lengthAdjust="spacingAndGlyphs" fill="#4f4f4f" stroke="none">C</text>
<text x="427.0" y="657.8" font-size="6.4" text-anchor="middle" textLength="5.0" lengthAdjust="spacingAndGlyphs" fill="#4f4f4f" stroke="none">G</text>
<text x="435.2" y="657.8" font-size="6.4" text-anchor="middle" textLength="4.3" lengthAdjust="spacingAndGlyphs" fill="#4f4f4f" stroke="none">A</text>
<text x="443.5" y="657.8" font-size="6.4" text-anchor="middle" textLength="4.6" lengthAdjust="spacingAndGlyphs" fill="#4f4f4f" stroke="none">C</text>
<text x="451.7" y="657.8" font-size="6.4" text-anchor="middle" textLength="3.9" lengthAdjust="spacingAndGlyphs" fill="#4f4f4f" stroke="none">T</text>
<text x="459.9" y="657.8" font-size="6.396000000000001" text-anchor="middle" textLength="5.0" lengthAdjust="spacingAndGlyphs" fill="#000" font-weight="bold" stroke="none">G</text>
<text x="468.1" y="657.8" font-size="6.4" text-anchor="middle" textLength="4.6" lengthAdjust="spacingAndGlyphs" fill="#4f4f4f" stroke="none">C</text>
<text x="476.3" y="657.8" font-size="6.4" text-anchor="middle" textLength="4.3" lengthAdjust="spacingAndGlyphs" fill="#4f4f4f" stroke="none">A</text>
<text x="484.5" y="657.8" font-size="6.4" text-anchor="middle" textLength="5.0" lengthAdjust="spacingAndGlyphs" fill="#4f4f4f" stroke="none">G</text>
<text x="492.7" y="657.8" font-size="6.4" text-anchor="middle" textLength="4.6" lengthAdjust="spacingAndGlyphs" fill="#4f4f4f" stroke="none">C</text>
<text x="500.9" y="657.8" font-size="6.4" text-anchor="middle" textLength="4.3" lengthAdjust="spacingAndGlyphs" fill="#4f4f4f" stroke="none">A</text>
<text x="509.1" y="657.8" font-size="6.4" text-anchor="middle" textLength="5.0" lengthAdjust="spacingAndGlyphs" fill="#4f4f4f" stroke="none">G</text>
<text x="517.3" y="657.8" font-size="6.4" text-anchor="middle" textLength="5.0" lengthAdjust="spacingAndGlyphs" fill="#4f4f4f" stroke="none">G</text>
<text x="525.6" y="657.8" font-size="6.4" text-anchor="middle" textLength="5.0" lengthAdjust="spacingAndGlyphs" fill="#4f4f4f" stroke="none">G</text>
<text x="533.8" y="657.8" font-size="6.4" text-anchor="middle" textLength="4.3" lengthAdjust="spacingAndGlyphs" fill="#4f4f4f" stroke="none">A</text>
<text x="542.0" y="657.8" font-size="6.4" text-anchor="middle" textLength="4.6" lengthAdjust="spacingAndGlyphs" fill="#4f4f4f" stroke="none">C</text>
<text x="550.2" y="657.8" font-size="6.4" text-anchor="middle" textLength="4.3" lengthAdjust="spacingAndGlyphs" fill="#4f4f4f" stroke="none">A</text>
<text x="558.4" y="657.8" font-size="6.4" text-anchor="middle" textLength="3.9" lengthAdjust="spacingAndGlyphs" fill="#4f4f4f" stroke="none">T</text>
<text x="566.1" y="656.5" font-size="8.63" textLength="62.8" lengthAdjust="spacingAndGlyphs">-0.19% (2 reads)</text>
<rect x="398.10" y="659.70" width="8.46" height="8.25" fill="#fde2c9"/>
<rect x="406.51" y="659.70" width="8.26" height="8.25" fill="#ffffd0"/>
<rect x="414.72" y="659.70" width="8.26" height="8.25" fill="#fde2c9"/>
<rect x="422.93" y="659.70" width="8.26" height="8.25" fill="#ffffd0"/>
<rect x="431.14" y="659.70" width="8.26" height="8.25" fill="#c6e6c6"/>
<rect x="439.35" y="659.70" width="8.26" height="8.25" fill="#fde2c9"/>
<rect x="447.56" y="659.70" width="8.26" height="8.25" fill="#e1daec"/>
<rect x="455.77" y="659.70" width="8.26" height="8.25" fill="#c6e6c6"/>
<rect x="463.98" y="659.70" width="8.26" height="8.25" fill="#fde2c9"/>
<rect x="472.19" y="659.70" width="8.26" height="8.25" fill="#c6e6c6"/>
<rect x="480.40" y="659.70" width="8.26" height="8.25" fill="#ffffd0"/>
<rect x="488.61" y="659.70" width="8.26" height="8.25" fill="#fde2c9"/>
<rect x="496.82" y="659.70" width="8.26" height="8.25" fill="#c6e6c6"/>
<rect x="505.03" y="659.70" width="8.26" height="8.25" fill="#ffffd0"/>
<rect x="513.24" y="659.70" width="8.26" height="8.25" fill="#ffffd0"/>
<rect x="521.45" y="659.70" width="8.26" height="8.25" fill="#ffffd0"/>
<rect x="529.66" y="659.70" width="8.26" height="8.25" fill="#c6e6c6"/>
<rect x="537.87" y="659.70" width="8.26" height="8.25" fill="#fde2c9"/>
<rect x="546.08" y="659.70" width="8.26" height="8.25" fill="#c6e6c6"/>
<rect x="554.29" y="659.70" width="7.11" height="8.25" fill="#e1daec"/>
<text x="402.4" y="666.0" font-size="6.4" text-anchor="middle" textLength="4.6" lengthAdjust="spacingAndGlyphs" fill="#4f4f4f" stroke="none">C</text>
<text x="410.6" y="666.0" font-size="6.396000000000001" text-anchor="middle" textLength="5.0" lengthAdjust="spacingAndGlyphs" fill="#000" font-weight="bold" stroke="none">G</text>
<text x="418.8" y="666.0" font-size="6.4" text-anchor="middle" textLength="4.6" lengthAdjust="spacingAndGlyphs" fill="#4f4f4f" stroke="none">C</text>
<text x="427.0" y="666.0" font-size="6.4" text-anchor="middle" textLength="5.0" lengthAdjust="spacingAndGlyphs" fill="#4f4f4f" stroke="none">G</text>
<text x="435.2" y="666.0" font-size="6.4" text-anchor="middle" textLength="4.3" lengthAdjust="spacingAndGlyphs" fill="#4f4f4f" stroke="none">A</text>
<text x="443.5" y="666.0" font-size="6.4" text-anchor="middle" textLength="4.6" lengthAdjust="spacingAndGlyphs" fill="#4f4f4f" stroke="none">C</text>
<text x="451.7" y="666.0" font-size="6.4" text-anchor="middle" textLength="3.9" lengthAdjust="spacingAndGlyphs" fill="#4f4f4f" stroke="none">T</text>
<text x="459.9" y="666.0" font-size="6.4" text-anchor="middle" textLength="4.3" lengthAdjust="spacingAndGlyphs" fill="#4f4f4f" stroke="none">A</text>
<text x="468.1" y="666.0" font-size="6.4" text-anchor="middle" textLength="4.6" lengthAdjust="spacingAndGlyphs" fill="#4f4f4f" stroke="none">C</text>
<text x="476.3" y="666.0" font-size="6.4" text-anchor="middle" textLength="4.3" lengthAdjust="spacingAndGlyphs" fill="#4f4f4f" stroke="none">A</text>
<text x="484.5" y="666.0" font-size="6.4" text-anchor="middle" textLength="5.0" lengthAdjust="spacingAndGlyphs" fill="#4f4f4f" stroke="none">G</text>
<text x="492.7" y="666.0" font-size="6.4" text-anchor="middle" textLength="4.6" lengthAdjust="spacingAndGlyphs" fill="#4f4f4f" stroke="none">C</text>
<text x="500.9" y="666.0" font-size="6.4" text-anchor="middle" textLength="4.3" lengthAdjust="spacingAndGlyphs" fill="#4f4f4f" stroke="none">A</text>
<text x="509.1" y="666.0" font-size="6.4" text-anchor="middle" textLength="5.0" lengthAdjust="spacingAndGlyphs" fill="#4f4f4f" stroke="none">G</text>
<text x="517.3" y="666.0" font-size="6.4" text-anchor="middle" textLength="5.0" lengthAdjust="spacingAndGlyphs" fill="#4f4f4f" stroke="none">G</text>
<text x="525.6" y="666.0" font-size="6.4" text-anchor="middle" textLength="5.0" lengthAdjust="spacingAndGlyphs" fill="#4f4f4f" stroke="none">G</text>
<text x="533.8" y="666.0" font-size="6.4" text-anchor="middle" textLength="4.3" lengthAdjust="spacingAndGlyphs" fill="#4f4f4f" stroke="none">A</text>
<text x="542.0" y="666.0" font-size="6.4" text-anchor="middle" textLength="4.6" lengthAdjust="spacingAndGlyphs" fill="#4f4f4f" stroke="none">C</text>
<text x="550.2" y="666.0" font-size="6.4" text-anchor="middle" textLength="4.3" lengthAdjust="spacingAndGlyphs" fill="#4f4f4f" stroke="none">A</text>
<text x="558.4" y="666.0" font-size="6.4" text-anchor="middle" textLength="3.9" lengthAdjust="spacingAndGlyphs" fill="#4f4f4f" stroke="none">T</text>
<text x="566.1" y="665.7" font-size="8.63" textLength="62.8" lengthAdjust="spacingAndGlyphs">-0.19% (2 reads)</text>
<rect x="480.9" y="635.4" width="7.6" height="7.6" fill="none" stroke="#cc2a36" stroke-width="0.9"/>
<line x1="480.2" y1="626.9" x2="480.2" y2="667.9" stroke="#3f6fc4" stroke-width="0.7" stroke-dasharray="1.4 1.1"/>
<text x="482.4" y="684.4" font-size="9.36" textLength="72.6" lengthAdjust="spacingAndGlyphs">Bold substitutions</text>
<rect x="486.6" y="690.1" width="6.8" height="6.6" fill="none" stroke="#cc2a36" stroke-width="1.15"/>
<text x="500.5" y="696.3" font-size="9.36" textLength="39.5" lengthAdjust="spacingAndGlyphs">Insertions</text>
<text x="489.2" y="709.5" font-size="9.36" textLength="3.2" lengthAdjust="spacingAndGlyphs">-</text>
<text x="500.5" y="709.3" font-size="9.36" textLength="37.7" lengthAdjust="spacingAndGlyphs">Deletions</text>
<text x="481.7" y="719.5" font-size="9.36" textLength="16.3" lengthAdjust="spacingAndGlyphs">------</text>
<text x="500.5" y="719.5" font-size="9.36" textLength="112.5" lengthAdjust="spacingAndGlyphs">Predicted cleavage position</text>
</svg>
</body></html>
